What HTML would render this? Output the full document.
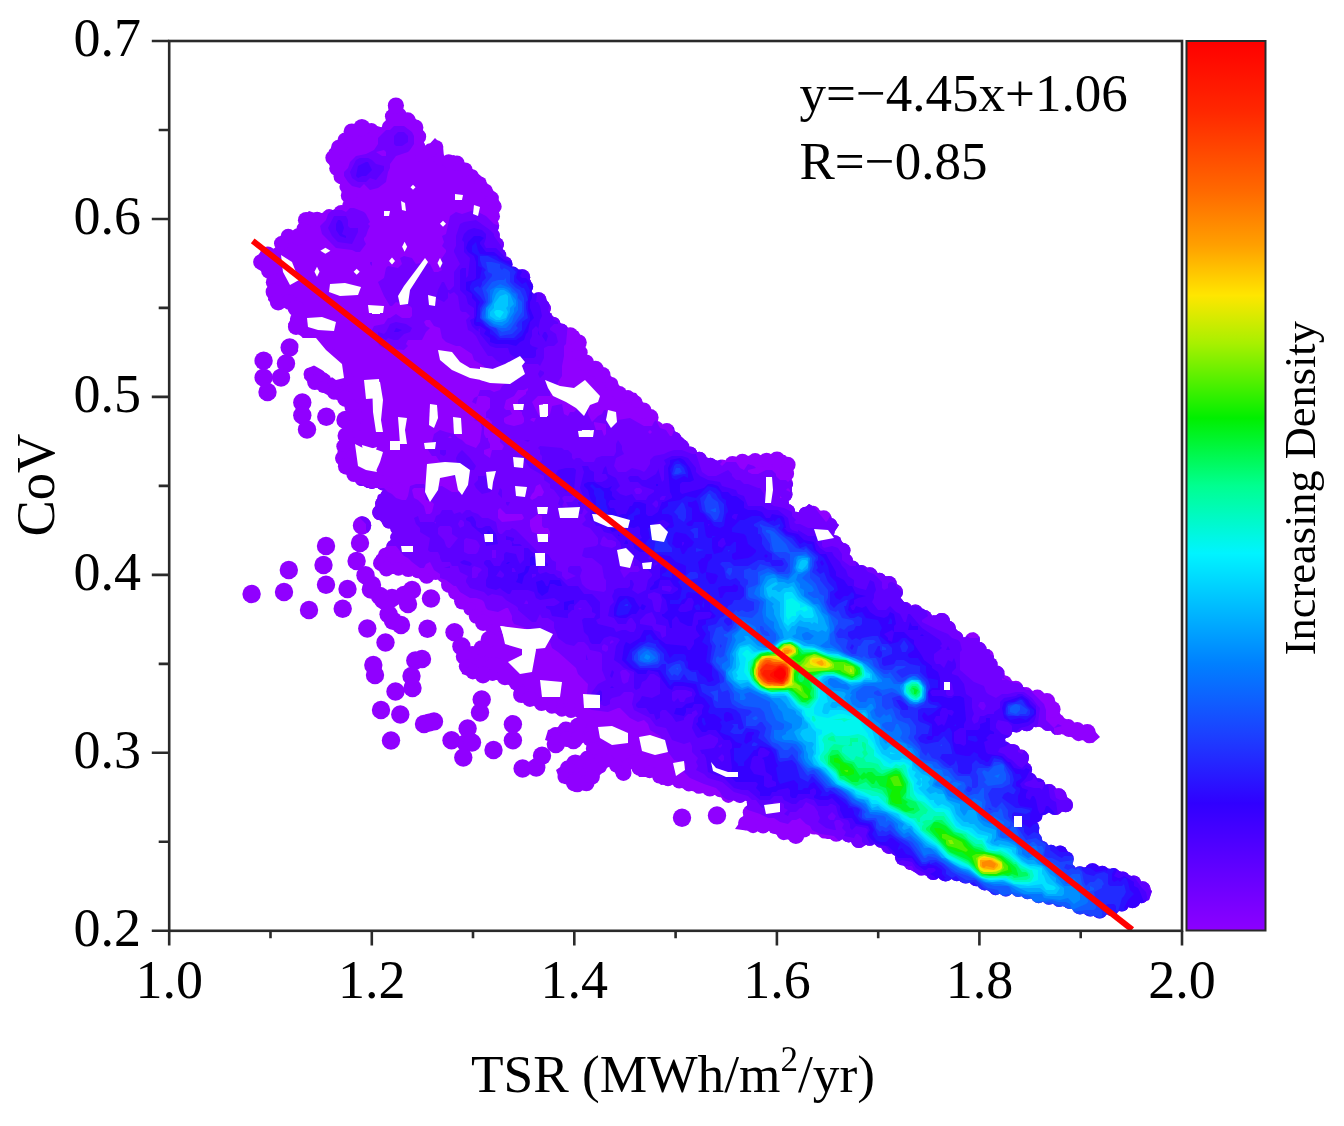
<!DOCTYPE html><html><head><meta charset="utf-8"><style>html,body{margin:0;padding:0;background:#fff;}svg{display:block;}text{font-family:"Liberation Serif","Times New Roman",serif;fill:#000;}</style></head><body><svg width="1344" height="1126" viewBox="0 0 1344 1126"><defs><linearGradient id="cb" x1="0" y1="0" x2="0" y2="1"><stop offset="0" stop-color="#ff0000"/><stop offset="0.08" stop-color="#ff2800"/><stop offset="0.17" stop-color="#ff6a00"/><stop offset="0.23" stop-color="#ffa000"/><stop offset="0.286" stop-color="#ffe600"/><stop offset="0.34" stop-color="#a8f000"/><stop offset="0.424" stop-color="#00f000"/><stop offset="0.5" stop-color="#00ff90"/><stop offset="0.576" stop-color="#00f4ff"/><stop offset="0.64" stop-color="#00b8ff"/><stop offset="0.7" stop-color="#0080ff"/><stop offset="0.78" stop-color="#1c40ff"/><stop offset="0.857" stop-color="#3000ff"/><stop offset="0.93" stop-color="#6000ff"/><stop offset="1.0" stop-color="#8c00ff"/></linearGradient><clipPath id="plot"><rect x="169.2" y="41.0" width="1012.8" height="889.8"/></clipPath></defs><rect width="1344" height="1126" fill="#fff"/><g clip-path="url(#plot)"><defs>
<clipPath id="cl">
<polygon points="391,100 400,101 405,114 416,119 423,130 424,150 435,138 443,146 444,157 454,155 465,163 481,176 493,190 501,204 496,224 504,254 513,268 524,271 531,281 532,295 542,295 549,303 550,314 559,321 566,330 578,331 584,341 583,348 590,360 602,367 614,379 624,391 636,393 645,405 655,415 660,425 669,426 684,439 690,448 705,457 722,462 744,456 770,455 785,455 793,463 791,472 792,491 787,503 797,515 809,504 828,515 839,525 833,534 847,546 852,563 869,570 890,578 900,587 900,599 910,606 924,609 931,618 941,613 950,623 960,633 964,640 974,632 981,645 993,655 996,667 1009,679 1027,689 1049,696 1055,704 1062,717 1074,723 1093,729 1100,737 1093,743 1074,738 1055,732 1037,726 1012,732 1002,742 1015,745 1027,757 1030,773 1046,785 1065,794 1072,804 1068,811 1043,813 1037,822 1040,838 1049,847 1065,847 1071,857 1074,869 1093,866 1117,870 1136,878 1152,891 1149,900 1130,906 1117,912 1099,916 1083,912 1062,906 1037,900 1012,894 993,894 978,884 956,878 936,878 916,873 904,866 894,854 874,844 859,846 847,839 827,839 809,831 799,841 784,839 770,831 750,831 735,829 742,819 750,799 727,801 715,794 700,793 684,789 674,784 661,785 652,777 639,777 633,765 626,779 617,776 610,765 600,775 590,788 575,789 560,781 556,770 570,760 588,752 586,742 560,745 545,740 548,730 575,722 581,716 560,715 540,708 518,700 514,688 500,680 480,680 462,674 458,652 478,645 488,632 476,624 468,614 454,600 444,586 440,577 424,582 412,574 383,574 376,568 376,556 390,543 394,531 383,524 374,513 378,495 393,488 367,488 350,478 336,462 340,435 352,421 345,404 331,397 311,386 304,378 306,369 315,365 332,379 340,378 336,370 320,354 318,342 304,338 293,331 288,324 293,315 290,307 275,307 268,300 269,289 268,276 258,269 255,260 263,248 275,250 277,239 288,230 297,232 300,219 309,211 318,214 336,209 345,207 345,199 340,184 327,161 329,150 340,139 349,127 363,122 384,128 386,119"/>
<circle cx="263.6" cy="360.8" r="9.2"/>
<circle cx="263.6" cy="377.6" r="9.2"/>
<circle cx="267.5" cy="392" r="9.2"/>
<circle cx="289.7" cy="347.4" r="9.2"/>
<circle cx="286" cy="363.4" r="9.2"/>
<circle cx="281" cy="377.6" r="9.2"/>
<circle cx="302.3" cy="402.4" r="9.2"/>
<circle cx="302.3" cy="415.2" r="9.2"/>
<circle cx="307" cy="429.5" r="9.2"/>
<circle cx="326.3" cy="416.8" r="9.2"/>
<circle cx="345.5" cy="420" r="9.2"/>
<circle cx="362" cy="525.5" r="9.2"/>
<circle cx="360" cy="543" r="9.2"/>
<circle cx="356.6" cy="561" r="9.2"/>
<circle cx="326" cy="546" r="9.2"/>
<circle cx="323.5" cy="565" r="9.2"/>
<circle cx="288.8" cy="570" r="9.2"/>
<circle cx="251.6" cy="594" r="9.2"/>
<circle cx="284" cy="592" r="9.2"/>
<circle cx="326" cy="584.7" r="9.2"/>
<circle cx="347.5" cy="589" r="9.2"/>
<circle cx="309" cy="610" r="9.2"/>
<circle cx="342.7" cy="608.7" r="9.2"/>
<circle cx="365.5" cy="575.3" r="9.2"/>
<circle cx="370.9" cy="589.5" r="9.2"/>
<circle cx="383.3" cy="600" r="9.2"/>
<circle cx="388.6" cy="614.3" r="9.2"/>
<circle cx="401" cy="625" r="9.2"/>
<circle cx="393" cy="620.7" r="9.2"/>
<circle cx="367.3" cy="628.5" r="9.2"/>
<circle cx="385.5" cy="642.5" r="9.2"/>
<circle cx="373.3" cy="665" r="9.2"/>
<circle cx="375" cy="675" r="9.2"/>
<circle cx="415.3" cy="660.5" r="9.2"/>
<circle cx="422" cy="659" r="9.2"/>
<circle cx="411.5" cy="676" r="9.2"/>
<circle cx="412.5" cy="688" r="9.2"/>
<circle cx="395.5" cy="691.5" r="9.2"/>
<circle cx="381" cy="710" r="9.2"/>
<circle cx="400.3" cy="714.5" r="9.2"/>
<circle cx="424" cy="724" r="9.2"/>
<circle cx="429" cy="722.6" r="9.2"/>
<circle cx="434" cy="721.4" r="9.2"/>
<circle cx="391" cy="740.5" r="9.2"/>
<circle cx="431" cy="598.5" r="9.2"/>
<circle cx="427.5" cy="628.7" r="9.2"/>
<circle cx="454.5" cy="632.3" r="9.2"/>
<circle cx="461.4" cy="646.3" r="9.2"/>
<circle cx="468" cy="659" r="9.2"/>
<circle cx="484.5" cy="665.8" r="9.2"/>
<circle cx="500.5" cy="667.6" r="9.2"/>
<circle cx="514.7" cy="673" r="9.2"/>
<circle cx="493.8" cy="666.3" r="9.2"/>
<circle cx="517.8" cy="673.5" r="9.2"/>
<circle cx="522.6" cy="692.7" r="9.2"/>
<circle cx="481.7" cy="699.5" r="9.2"/>
<circle cx="480" cy="712.5" r="9.2"/>
<circle cx="467.6" cy="728.5" r="9.2"/>
<circle cx="466" cy="743" r="9.2"/>
<circle cx="451.5" cy="740.3" r="9.2"/>
<circle cx="472" cy="742.5" r="9.2"/>
<circle cx="463.3" cy="757.5" r="9.2"/>
<circle cx="493.5" cy="750" r="9.2"/>
<circle cx="512.9" cy="724.3" r="9.2"/>
<circle cx="512.9" cy="740.3" r="9.2"/>
<circle cx="522.6" cy="768.5" r="9.2"/>
<circle cx="536.25" cy="767.5" r="9.2"/>
<circle cx="542" cy="755.8" r="9.2"/>
<circle cx="555.8" cy="744" r="9.2"/>
<circle cx="573.4" cy="740" r="9.2"/>
<circle cx="567.5" cy="775.3" r="9.2"/>
<circle cx="577.3" cy="783" r="9.2"/>
<circle cx="575.3" cy="763.6" r="9.2"/>
<circle cx="682" cy="817.8" r="9.2"/>
<circle cx="717" cy="815.4" r="9.2"/>
<circle cx="392" cy="598" r="9.2"/>
<circle cx="404" cy="595" r="9.2"/>
<circle cx="412" cy="590" r="9.2"/>
<circle cx="408" cy="604" r="9.2"/>
<circle cx="380" cy="596" r="9.2"/>
<circle cx="372" cy="585" r="9.2"/>
<circle cx="394.7" cy="105.4" r="6.6"/>
<circle cx="391.9" cy="116.3" r="7.0"/>
<circle cx="389.3" cy="127.4" r="7.6"/>
<circle cx="383.3" cy="132.9" r="6.0"/>
<circle cx="371.4" cy="129.6" r="6.7"/>
<circle cx="361.9" cy="127.7" r="8.6"/>
<circle cx="351.8" cy="131.6" r="8.2"/>
<circle cx="345.2" cy="140.3" r="7.7"/>
<circle cx="338.7" cy="147.4" r="7.7"/>
<circle cx="332.7" cy="157.7" r="7.4"/>
<circle cx="336.9" cy="168.4" r="7.7"/>
<circle cx="341.5" cy="176.4" r="8.0"/>
<circle cx="346.2" cy="186.7" r="6.8"/>
<circle cx="349.1" cy="195.4" r="8.3"/>
<circle cx="350.0" cy="206.1" r="7.9"/>
<circle cx="341.3" cy="212.9" r="7.9"/>
<circle cx="329.1" cy="216.1" r="7.0"/>
<circle cx="317.2" cy="218.9" r="7.2"/>
<circle cx="306.2" cy="220.2" r="8.3"/>
<circle cx="302.9" cy="228.6" r="6.4"/>
<circle cx="298.4" cy="236.8" r="8.5"/>
<circle cx="288.2" cy="236.3" r="7.6"/>
<circle cx="281.3" cy="243.3" r="7.3"/>
<circle cx="278.7" cy="253.4" r="6.9"/>
<circle cx="267.8" cy="253.9" r="7.5"/>
<circle cx="260.9" cy="262.0" r="7.8"/>
<circle cx="269.3" cy="270.8" r="8.2"/>
<circle cx="273.5" cy="282.3" r="7.7"/>
<circle cx="273.8" cy="291.9" r="8.2"/>
<circle cx="278.2" cy="302.0" r="8.4"/>
<circle cx="289.5" cy="302.0" r="7.9"/>
<circle cx="295.8" cy="308.3" r="8.2"/>
<circle cx="296.6" cy="318.9" r="6.7"/>
<circle cx="296.1" cy="326.8" r="8.2"/>
<circle cx="307.0" cy="333.7" r="6.2"/>
<circle cx="318.7" cy="337.0" r="7.1"/>
<circle cx="323.5" cy="344.4" r="6.8"/>
<circle cx="328.1" cy="355.0" r="8.3"/>
<circle cx="334.5" cy="361.5" r="7.6"/>
<circle cx="340.7" cy="368.2" r="7.9"/>
<circle cx="345.0" cy="377.6" r="8.3"/>
<circle cx="335.4" cy="383.6" r="7.3"/>
<circle cx="324.1" cy="379.0" r="6.8"/>
<circle cx="316.9" cy="373.0" r="7.6"/>
<circle cx="310.0" cy="373.9" r="6.5"/>
<circle cx="314.8" cy="382.4" r="7.6"/>
<circle cx="323.2" cy="387.0" r="6.1"/>
<circle cx="334.1" cy="393.0" r="6.8"/>
<circle cx="345.6" cy="398.7" r="8.3"/>
<circle cx="351.6" cy="406.8" r="7.2"/>
<circle cx="355.8" cy="417.1" r="7.7"/>
<circle cx="353.4" cy="427.1" r="7.5"/>
<circle cx="345.9" cy="435.8" r="8.4"/>
<circle cx="343.4" cy="446.3" r="7.1"/>
<circle cx="341.6" cy="458.0" r="6.6"/>
<circle cx="346.4" cy="466.3" r="8.5"/>
<circle cx="353.8" cy="474.5" r="7.4"/>
<circle cx="361.6" cy="479.0" r="7.1"/>
<circle cx="371.9" cy="483.0" r="6.1"/>
<circle cx="383.3" cy="483.0" r="7.6"/>
<circle cx="392.6" cy="483.0" r="7.6"/>
<circle cx="397.3" cy="490.5" r="7.8"/>
<circle cx="388.5" cy="495.6" r="7.8"/>
<circle cx="381.2" cy="503.6" r="6.1"/>
<circle cx="380.0" cy="512.4" r="7.8"/>
<circle cx="388.7" cy="521.7" r="6.7"/>
<circle cx="397.7" cy="527.7" r="7.5"/>
<circle cx="397.2" cy="537.3" r="6.9"/>
<circle cx="393.3" cy="546.7" r="7.0"/>
<circle cx="385.0" cy="554.5" r="6.8"/>
<circle cx="381.0" cy="563.2" r="8.0"/>
<circle cx="386.4" cy="569.0" r="7.5"/>
<circle cx="398.4" cy="569.0" r="6.8"/>
<circle cx="408.3" cy="569.0" r="8.1"/>
<circle cx="417.5" cy="571.7" r="6.5"/>
<circle cx="426.7" cy="575.9" r="7.8"/>
<circle cx="435.7" cy="573.1" r="6.8"/>
<circle cx="444.6" cy="575.0" r="8.2"/>
<circle cx="449.2" cy="584.7" r="8.2"/>
<circle cx="454.9" cy="592.6" r="6.9"/>
<circle cx="462.4" cy="601.3" r="8.3"/>
<circle cx="470.1" cy="609.0" r="6.6"/>
<circle cx="476.2" cy="616.2" r="7.4"/>
<circle cx="483.2" cy="622.8" r="8.1"/>
<circle cx="492.7" cy="630.4" r="6.5"/>
<circle cx="488.8" cy="639.2" r="8.1"/>
<circle cx="481.7" cy="648.3" r="8.1"/>
<circle cx="472.2" cy="652.3" r="6.3"/>
<circle cx="463.9" cy="656.4" r="8.1"/>
<circle cx="465.7" cy="666.3" r="6.9"/>
<circle cx="472.8" cy="672.3" r="7.1"/>
<circle cx="483.0" cy="675.0" r="8.4"/>
<circle cx="492.6" cy="675.0" r="6.0"/>
<circle cx="504.9" cy="677.0" r="8.3"/>
<circle cx="516.1" cy="683.5" r="7.1"/>
<circle cx="521.5" cy="694.7" r="8.4"/>
<circle cx="529.9" cy="699.0" r="7.9"/>
<circle cx="541.5" cy="703.2" r="7.7"/>
<circle cx="551.9" cy="706.9" r="6.8"/>
<circle cx="561.8" cy="710.1" r="6.6"/>
<circle cx="571.0" cy="710.5" r="7.5"/>
<circle cx="581.2" cy="711.0" r="8.1"/>
<circle cx="585.8" cy="717.5" r="8.3"/>
<circle cx="577.9" cy="726.1" r="8.4"/>
<circle cx="565.9" cy="729.9" r="8.3"/>
<circle cx="555.1" cy="733.1" r="6.0"/>
<circle cx="556.8" cy="738.7" r="6.4"/>
<circle cx="566.7" cy="739.2" r="7.7"/>
<circle cx="577.8" cy="737.9" r="7.1"/>
<circle cx="589.9" cy="738.9" r="7.6"/>
<circle cx="592.5" cy="748.8" r="6.7"/>
<circle cx="586.9" cy="758.0" r="7.2"/>
<circle cx="575.8" cy="762.9" r="6.9"/>
<circle cx="567.4" cy="768.0" r="7.4"/>
<circle cx="563.9" cy="777.1" r="6.4"/>
<circle cx="574.4" cy="783.0" r="8.4"/>
<circle cx="586.4" cy="783.2" r="8.1"/>
<circle cx="592.3" cy="776.8" r="7.6"/>
<circle cx="600.5" cy="767.5" r="6.1"/>
<circle cx="607.8" cy="760.5" r="6.7"/>
<circle cx="616.2" cy="765.5" r="7.1"/>
<circle cx="623.5" cy="772.9" r="8.0"/>
<circle cx="627.5" cy="764.8" r="6.1"/>
<circle cx="634.7" cy="760.3" r="6.3"/>
<circle cx="639.9" cy="767.6" r="8.5"/>
<circle cx="649.6" cy="772.0" r="6.2"/>
<circle cx="659.0" cy="776.6" r="6.8"/>
<circle cx="668.0" cy="779.4" r="6.9"/>
<circle cx="679.2" cy="781.0" r="7.5"/>
<circle cx="688.8" cy="785.0" r="6.5"/>
<circle cx="698.8" cy="787.5" r="6.3"/>
<circle cx="709.9" cy="788.6" r="7.9"/>
<circle cx="719.9" cy="791.1" r="6.2"/>
<circle cx="728.3" cy="795.9" r="7.0"/>
<circle cx="739.7" cy="794.9" r="8.0"/>
<circle cx="750.2" cy="794.0" r="8.1"/>
<circle cx="753.9" cy="802.7" r="7.1"/>
<circle cx="750.0" cy="812.4" r="7.3"/>
<circle cx="745.2" cy="823.1" r="7.1"/>
<circle cx="753.1" cy="826.0" r="7.2"/>
<circle cx="763.1" cy="826.0" r="7.4"/>
<circle cx="774.4" cy="827.8" r="6.2"/>
<circle cx="783.7" cy="833.1" r="7.1"/>
<circle cx="795.9" cy="835.5" r="8.4"/>
<circle cx="803.7" cy="829.3" r="8.3"/>
<circle cx="814.3" cy="827.9" r="6.7"/>
<circle cx="824.3" cy="832.3" r="6.3"/>
<circle cx="836.2" cy="834.0" r="7.7"/>
<circle cx="848.7" cy="834.3" r="8.1"/>
<circle cx="858.8" cy="840.1" r="7.9"/>
<circle cx="869.8" cy="839.5" r="6.3"/>
<circle cx="880.5" cy="841.7" r="6.0"/>
<circle cx="889.1" cy="845.9" r="8.0"/>
<circle cx="897.2" cy="850.2" r="6.2"/>
<circle cx="903.3" cy="857.3" r="8.3"/>
<circle cx="910.3" cy="863.9" r="6.1"/>
<circle cx="921.3" cy="869.2" r="6.3"/>
<circle cx="933.3" cy="872.2" r="7.8"/>
<circle cx="945.6" cy="873.0" r="8.5"/>
<circle cx="956.9" cy="873.1" r="8.1"/>
<circle cx="965.7" cy="875.5" r="8.0"/>
<circle cx="976.4" cy="878.4" r="7.9"/>
<circle cx="984.7" cy="882.5" r="7.9"/>
<circle cx="995.5" cy="889.0" r="6.2"/>
<circle cx="1005.8" cy="889.0" r="7.5"/>
<circle cx="1018.0" cy="890.3" r="6.6"/>
<circle cx="1027.4" cy="892.6" r="6.6"/>
<circle cx="1038.6" cy="895.2" r="8.0"/>
<circle cx="1048.9" cy="897.7" r="7.0"/>
<circle cx="1059.1" cy="900.2" r="6.9"/>
<circle cx="1069.5" cy="902.9" r="6.2"/>
<circle cx="1080.0" cy="906.0" r="8.5"/>
<circle cx="1090.3" cy="908.7" r="7.9"/>
<circle cx="1099.7" cy="910.7" r="7.8"/>
<circle cx="1111.4" cy="908.1" r="7.8"/>
<circle cx="1121.8" cy="904.3" r="7.3"/>
<circle cx="1132.5" cy="900.0" r="8.3"/>
<circle cx="1141.6" cy="897.1" r="6.2"/>
<circle cx="1142.4" cy="889.6" r="8.4"/>
<circle cx="1133.8" cy="882.6" r="7.2"/>
<circle cx="1122.9" cy="877.9" r="6.5"/>
<circle cx="1113.5" cy="874.5" r="6.5"/>
<circle cx="1102.3" cy="872.6" r="6.8"/>
<circle cx="1092.5" cy="871.1" r="7.8"/>
<circle cx="1079.8" cy="873.1" r="6.8"/>
<circle cx="1069.4" cy="870.9" r="7.1"/>
<circle cx="1066.3" cy="858.9" r="7.5"/>
<circle cx="1060.1" cy="852.0" r="6.6"/>
<circle cx="1051.0" cy="852.0" r="7.2"/>
<circle cx="1042.2" cy="847.3" r="6.4"/>
<circle cx="1035.3" cy="839.6" r="6.8"/>
<circle cx="1033.0" cy="827.7" r="6.4"/>
<circle cx="1035.2" cy="815.7" r="7.2"/>
<circle cx="1042.9" cy="808.0" r="7.2"/>
<circle cx="1055.2" cy="807.0" r="8.1"/>
<circle cx="1065.7" cy="805.0" r="7.3"/>
<circle cx="1058.6" cy="796.5" r="8.2"/>
<circle cx="1049.1" cy="792.0" r="7.9"/>
<circle cx="1038.1" cy="785.4" r="7.2"/>
<circle cx="1030.2" cy="779.4" r="6.6"/>
<circle cx="1024.3" cy="769.8" r="7.8"/>
<circle cx="1020.8" cy="757.8" r="8.2"/>
<circle cx="1013.7" cy="750.8" r="6.5"/>
<circle cx="1004.4" cy="747.7" r="6.5"/>
<circle cx="997.2" cy="740.6" r="8.2"/>
<circle cx="1005.6" cy="731.3" r="6.7"/>
<circle cx="1016.4" cy="725.8" r="6.8"/>
<circle cx="1026.8" cy="723.3" r="7.9"/>
<circle cx="1035.9" cy="721.1" r="6.2"/>
<circle cx="1047.7" cy="724.3" r="6.8"/>
<circle cx="1057.6" cy="727.6" r="7.5"/>
<circle cx="1068.7" cy="731.1" r="6.0"/>
<circle cx="1078.6" cy="734.1" r="7.1"/>
<circle cx="1089.2" cy="736.8" r="6.5"/>
<circle cx="1087.3" cy="732.4" r="8.5"/>
<circle cx="1077.2" cy="729.3" r="7.4"/>
<circle cx="1068.4" cy="725.8" r="6.7"/>
<circle cx="1058.2" cy="720.3" r="6.3"/>
<circle cx="1052.2" cy="709.3" r="8.4"/>
<circle cx="1046.9" cy="701.5" r="8.4"/>
<circle cx="1037.4" cy="697.6" r="8.0"/>
<circle cx="1026.0" cy="693.9" r="6.8"/>
<circle cx="1015.7" cy="688.4" r="7.7"/>
<circle cx="1005.1" cy="682.2" r="6.7"/>
<circle cx="996.3" cy="674.1" r="8.5"/>
<circle cx="990.2" cy="664.6" r="7.4"/>
<circle cx="986.7" cy="656.2" r="7.3"/>
<circle cx="978.7" cy="649.6" r="7.9"/>
<circle cx="972.5" cy="639.7" r="7.5"/>
<circle cx="964.5" cy="645.0" r="7.7"/>
<circle cx="956.8" cy="637.5" r="6.5"/>
<circle cx="948.3" cy="628.4" r="7.7"/>
<circle cx="941.8" cy="621.4" r="8.4"/>
<circle cx="933.9" cy="622.1" r="6.9"/>
<circle cx="924.5" cy="617.7" r="7.6"/>
<circle cx="915.4" cy="612.3" r="7.7"/>
<circle cx="905.3" cy="608.8" r="6.8"/>
<circle cx="897.4" cy="603.3" r="6.2"/>
<circle cx="895.0" cy="592.2" r="8.0"/>
<circle cx="888.9" cy="583.8" r="7.9"/>
<circle cx="879.6" cy="579.4" r="6.7"/>
<circle cx="869.7" cy="575.6" r="8.3"/>
<circle cx="861.2" cy="572.2" r="7.3"/>
<circle cx="852.0" cy="568.4" r="8.0"/>
<circle cx="846.1" cy="560.7" r="6.9"/>
<circle cx="843.1" cy="550.5" r="7.4"/>
<circle cx="834.8" cy="542.1" r="6.9"/>
<circle cx="828.2" cy="532.6" r="6.3"/>
<circle cx="830.9" cy="524.4" r="6.3"/>
<circle cx="823.7" cy="518.3" r="8.0"/>
<circle cx="813.4" cy="512.3" r="6.5"/>
<circle cx="805.7" cy="513.8" r="7.1"/>
<circle cx="795.9" cy="519.9" r="8.1"/>
<circle cx="787.6" cy="511.5" r="7.5"/>
<circle cx="782.1" cy="503.8" r="7.0"/>
<circle cx="785.1" cy="494.6" r="7.4"/>
<circle cx="786.6" cy="483.7" r="6.5"/>
<circle cx="786.1" cy="473.7" r="8.0"/>
<circle cx="787.5" cy="464.8" r="8.1"/>
<circle cx="777.0" cy="460.0" r="8.5"/>
<circle cx="766.5" cy="460.1" r="7.4"/>
<circle cx="755.2" cy="460.6" r="7.6"/>
<circle cx="742.4" cy="461.6" r="7.8"/>
<circle cx="732.5" cy="464.3" r="8.2"/>
<circle cx="722.0" cy="467.0" r="7.6"/>
<circle cx="710.5" cy="463.8" r="6.0"/>
<circle cx="699.3" cy="459.4" r="7.7"/>
<circle cx="689.9" cy="453.8" r="7.4"/>
<circle cx="682.7" cy="446.0" r="6.5"/>
<circle cx="675.2" cy="438.0" r="6.1"/>
<circle cx="666.8" cy="430.8" r="7.7"/>
<circle cx="656.5" cy="428.5" r="7.5"/>
<circle cx="650.3" cy="417.4" r="8.3"/>
<circle cx="643.5" cy="410.6" r="8.1"/>
<circle cx="636.3" cy="401.7" r="6.1"/>
<circle cx="628.0" cy="396.7" r="6.6"/>
<circle cx="619.6" cy="393.5" r="7.4"/>
<circle cx="611.5" cy="383.8" r="6.8"/>
<circle cx="602.7" cy="374.8" r="7.8"/>
<circle cx="595.4" cy="368.9" r="8.2"/>
<circle cx="585.8" cy="362.8" r="8.4"/>
<circle cx="579.8" cy="352.5" r="7.9"/>
<circle cx="578.7" cy="342.6" r="8.1"/>
<circle cx="570.2" cy="335.4" r="8.2"/>
<circle cx="560.9" cy="331.5" r="8.0"/>
<circle cx="553.8" cy="323.3" r="6.3"/>
<circle cx="546.5" cy="317.6" r="6.2"/>
<circle cx="544.5" cy="308.3" r="6.4"/>
<circle cx="538.7" cy="300.0" r="7.8"/>
<circle cx="528.1" cy="298.1" r="7.1"/>
<circle cx="526.4" cy="286.8" r="6.8"/>
<circle cx="522.2" cy="277.2" r="8.0"/>
<circle cx="512.9" cy="273.1" r="6.5"/>
<circle cx="504.6" cy="264.2" r="7.9"/>
<circle cx="499.2" cy="255.3" r="7.0"/>
<circle cx="496.3" cy="244.6" r="7.6"/>
<circle cx="493.8" cy="235.0" r="6.0"/>
<circle cx="491.2" cy="225.5" r="8.0"/>
<circle cx="492.8" cy="216.2" r="7.2"/>
<circle cx="495.2" cy="206.7" r="6.5"/>
<circle cx="491.9" cy="198.1" r="7.0"/>
<circle cx="486.5" cy="190.1" r="6.1"/>
<circle cx="480.3" cy="182.9" r="6.4"/>
<circle cx="472.4" cy="175.4" r="6.2"/>
<circle cx="465.3" cy="169.7" r="7.2"/>
<circle cx="456.9" cy="163.3" r="7.8"/>
<circle cx="448.7" cy="161.2" r="7.0"/>
<circle cx="439.4" cy="159.0" r="6.1"/>
<circle cx="436.7" cy="146.8" r="6.6"/>
<circle cx="430.3" cy="150.5" r="7.2"/>
<circle cx="422.4" cy="154.7" r="7.6"/>
<circle cx="418.8" cy="145.9" r="6.3"/>
<circle cx="418.3" cy="136.7" r="7.9"/>
<circle cx="415.4" cy="127.4" r="8.0"/>
<circle cx="407.5" cy="120.6" r="8.4"/>
<circle cx="399.9" cy="114.5" r="6.6"/>
<circle cx="395.9" cy="105.6" r="8.1"/>
</clipPath>
<filter id="b2_5" x="-50%" y="-50%" width="200%" height="200%"><feGaussianBlur stdDeviation="2.5"/></filter>
<filter id="b3" x="-50%" y="-50%" width="200%" height="200%"><feGaussianBlur stdDeviation="3"/></filter>
<filter id="b4" x="-50%" y="-50%" width="200%" height="200%"><feGaussianBlur stdDeviation="4"/></filter>
<filter id="b5" x="-50%" y="-50%" width="200%" height="200%"><feGaussianBlur stdDeviation="5"/></filter>
<filter id="b6" x="-50%" y="-50%" width="200%" height="200%"><feGaussianBlur stdDeviation="6"/></filter>
<filter id="b7" x="-50%" y="-50%" width="200%" height="200%"><feGaussianBlur stdDeviation="7"/></filter>
</defs>
<g fill="#9000ff">
<polygon points="391,100 400,101 405,114 416,119 423,130 424,150 435,138 443,146 444,157 454,155 465,163 481,176 493,190 501,204 496,224 504,254 513,268 524,271 531,281 532,295 542,295 549,303 550,314 559,321 566,330 578,331 584,341 583,348 590,360 602,367 614,379 624,391 636,393 645,405 655,415 660,425 669,426 684,439 690,448 705,457 722,462 744,456 770,455 785,455 793,463 791,472 792,491 787,503 797,515 809,504 828,515 839,525 833,534 847,546 852,563 869,570 890,578 900,587 900,599 910,606 924,609 931,618 941,613 950,623 960,633 964,640 974,632 981,645 993,655 996,667 1009,679 1027,689 1049,696 1055,704 1062,717 1074,723 1093,729 1100,737 1093,743 1074,738 1055,732 1037,726 1012,732 1002,742 1015,745 1027,757 1030,773 1046,785 1065,794 1072,804 1068,811 1043,813 1037,822 1040,838 1049,847 1065,847 1071,857 1074,869 1093,866 1117,870 1136,878 1152,891 1149,900 1130,906 1117,912 1099,916 1083,912 1062,906 1037,900 1012,894 993,894 978,884 956,878 936,878 916,873 904,866 894,854 874,844 859,846 847,839 827,839 809,831 799,841 784,839 770,831 750,831 735,829 742,819 750,799 727,801 715,794 700,793 684,789 674,784 661,785 652,777 639,777 633,765 626,779 617,776 610,765 600,775 590,788 575,789 560,781 556,770 570,760 588,752 586,742 560,745 545,740 548,730 575,722 581,716 560,715 540,708 518,700 514,688 500,680 480,680 462,674 458,652 478,645 488,632 476,624 468,614 454,600 444,586 440,577 424,582 412,574 383,574 376,568 376,556 390,543 394,531 383,524 374,513 378,495 393,488 367,488 350,478 336,462 340,435 352,421 345,404 331,397 311,386 304,378 306,369 315,365 332,379 340,378 336,370 320,354 318,342 304,338 293,331 288,324 293,315 290,307 275,307 268,300 269,289 268,276 258,269 255,260 263,248 275,250 277,239 288,230 297,232 300,219 309,211 318,214 336,209 345,207 345,199 340,184 327,161 329,150 340,139 349,127 363,122 384,128 386,119"/>
<circle cx="263.6" cy="360.8" r="9.2"/>
<circle cx="263.6" cy="377.6" r="9.2"/>
<circle cx="267.5" cy="392" r="9.2"/>
<circle cx="289.7" cy="347.4" r="9.2"/>
<circle cx="286" cy="363.4" r="9.2"/>
<circle cx="281" cy="377.6" r="9.2"/>
<circle cx="302.3" cy="402.4" r="9.2"/>
<circle cx="302.3" cy="415.2" r="9.2"/>
<circle cx="307" cy="429.5" r="9.2"/>
<circle cx="326.3" cy="416.8" r="9.2"/>
<circle cx="345.5" cy="420" r="9.2"/>
<circle cx="362" cy="525.5" r="9.2"/>
<circle cx="360" cy="543" r="9.2"/>
<circle cx="356.6" cy="561" r="9.2"/>
<circle cx="326" cy="546" r="9.2"/>
<circle cx="323.5" cy="565" r="9.2"/>
<circle cx="288.8" cy="570" r="9.2"/>
<circle cx="251.6" cy="594" r="9.2"/>
<circle cx="284" cy="592" r="9.2"/>
<circle cx="326" cy="584.7" r="9.2"/>
<circle cx="347.5" cy="589" r="9.2"/>
<circle cx="309" cy="610" r="9.2"/>
<circle cx="342.7" cy="608.7" r="9.2"/>
<circle cx="365.5" cy="575.3" r="9.2"/>
<circle cx="370.9" cy="589.5" r="9.2"/>
<circle cx="383.3" cy="600" r="9.2"/>
<circle cx="388.6" cy="614.3" r="9.2"/>
<circle cx="401" cy="625" r="9.2"/>
<circle cx="393" cy="620.7" r="9.2"/>
<circle cx="367.3" cy="628.5" r="9.2"/>
<circle cx="385.5" cy="642.5" r="9.2"/>
<circle cx="373.3" cy="665" r="9.2"/>
<circle cx="375" cy="675" r="9.2"/>
<circle cx="415.3" cy="660.5" r="9.2"/>
<circle cx="422" cy="659" r="9.2"/>
<circle cx="411.5" cy="676" r="9.2"/>
<circle cx="412.5" cy="688" r="9.2"/>
<circle cx="395.5" cy="691.5" r="9.2"/>
<circle cx="381" cy="710" r="9.2"/>
<circle cx="400.3" cy="714.5" r="9.2"/>
<circle cx="424" cy="724" r="9.2"/>
<circle cx="429" cy="722.6" r="9.2"/>
<circle cx="434" cy="721.4" r="9.2"/>
<circle cx="391" cy="740.5" r="9.2"/>
<circle cx="431" cy="598.5" r="9.2"/>
<circle cx="427.5" cy="628.7" r="9.2"/>
<circle cx="454.5" cy="632.3" r="9.2"/>
<circle cx="461.4" cy="646.3" r="9.2"/>
<circle cx="468" cy="659" r="9.2"/>
<circle cx="484.5" cy="665.8" r="9.2"/>
<circle cx="500.5" cy="667.6" r="9.2"/>
<circle cx="514.7" cy="673" r="9.2"/>
<circle cx="493.8" cy="666.3" r="9.2"/>
<circle cx="517.8" cy="673.5" r="9.2"/>
<circle cx="522.6" cy="692.7" r="9.2"/>
<circle cx="481.7" cy="699.5" r="9.2"/>
<circle cx="480" cy="712.5" r="9.2"/>
<circle cx="467.6" cy="728.5" r="9.2"/>
<circle cx="466" cy="743" r="9.2"/>
<circle cx="451.5" cy="740.3" r="9.2"/>
<circle cx="472" cy="742.5" r="9.2"/>
<circle cx="463.3" cy="757.5" r="9.2"/>
<circle cx="493.5" cy="750" r="9.2"/>
<circle cx="512.9" cy="724.3" r="9.2"/>
<circle cx="512.9" cy="740.3" r="9.2"/>
<circle cx="522.6" cy="768.5" r="9.2"/>
<circle cx="536.25" cy="767.5" r="9.2"/>
<circle cx="542" cy="755.8" r="9.2"/>
<circle cx="555.8" cy="744" r="9.2"/>
<circle cx="573.4" cy="740" r="9.2"/>
<circle cx="567.5" cy="775.3" r="9.2"/>
<circle cx="577.3" cy="783" r="9.2"/>
<circle cx="575.3" cy="763.6" r="9.2"/>
<circle cx="682" cy="817.8" r="9.2"/>
<circle cx="717" cy="815.4" r="9.2"/>
<circle cx="392" cy="598" r="9.2"/>
<circle cx="404" cy="595" r="9.2"/>
<circle cx="412" cy="590" r="9.2"/>
<circle cx="408" cy="604" r="9.2"/>
<circle cx="380" cy="596" r="9.2"/>
<circle cx="372" cy="585" r="9.2"/>
<circle cx="394.7" cy="105.4" r="6.6"/>
<circle cx="391.9" cy="116.3" r="7.0"/>
<circle cx="389.3" cy="127.4" r="7.6"/>
<circle cx="383.3" cy="132.9" r="6.0"/>
<circle cx="371.4" cy="129.6" r="6.7"/>
<circle cx="361.9" cy="127.7" r="8.6"/>
<circle cx="351.8" cy="131.6" r="8.2"/>
<circle cx="345.2" cy="140.3" r="7.7"/>
<circle cx="338.7" cy="147.4" r="7.7"/>
<circle cx="332.7" cy="157.7" r="7.4"/>
<circle cx="336.9" cy="168.4" r="7.7"/>
<circle cx="341.5" cy="176.4" r="8.0"/>
<circle cx="346.2" cy="186.7" r="6.8"/>
<circle cx="349.1" cy="195.4" r="8.3"/>
<circle cx="350.0" cy="206.1" r="7.9"/>
<circle cx="341.3" cy="212.9" r="7.9"/>
<circle cx="329.1" cy="216.1" r="7.0"/>
<circle cx="317.2" cy="218.9" r="7.2"/>
<circle cx="306.2" cy="220.2" r="8.3"/>
<circle cx="302.9" cy="228.6" r="6.4"/>
<circle cx="298.4" cy="236.8" r="8.5"/>
<circle cx="288.2" cy="236.3" r="7.6"/>
<circle cx="281.3" cy="243.3" r="7.3"/>
<circle cx="278.7" cy="253.4" r="6.9"/>
<circle cx="267.8" cy="253.9" r="7.5"/>
<circle cx="260.9" cy="262.0" r="7.8"/>
<circle cx="269.3" cy="270.8" r="8.2"/>
<circle cx="273.5" cy="282.3" r="7.7"/>
<circle cx="273.8" cy="291.9" r="8.2"/>
<circle cx="278.2" cy="302.0" r="8.4"/>
<circle cx="289.5" cy="302.0" r="7.9"/>
<circle cx="295.8" cy="308.3" r="8.2"/>
<circle cx="296.6" cy="318.9" r="6.7"/>
<circle cx="296.1" cy="326.8" r="8.2"/>
<circle cx="307.0" cy="333.7" r="6.2"/>
<circle cx="318.7" cy="337.0" r="7.1"/>
<circle cx="323.5" cy="344.4" r="6.8"/>
<circle cx="328.1" cy="355.0" r="8.3"/>
<circle cx="334.5" cy="361.5" r="7.6"/>
<circle cx="340.7" cy="368.2" r="7.9"/>
<circle cx="345.0" cy="377.6" r="8.3"/>
<circle cx="335.4" cy="383.6" r="7.3"/>
<circle cx="324.1" cy="379.0" r="6.8"/>
<circle cx="316.9" cy="373.0" r="7.6"/>
<circle cx="310.0" cy="373.9" r="6.5"/>
<circle cx="314.8" cy="382.4" r="7.6"/>
<circle cx="323.2" cy="387.0" r="6.1"/>
<circle cx="334.1" cy="393.0" r="6.8"/>
<circle cx="345.6" cy="398.7" r="8.3"/>
<circle cx="351.6" cy="406.8" r="7.2"/>
<circle cx="355.8" cy="417.1" r="7.7"/>
<circle cx="353.4" cy="427.1" r="7.5"/>
<circle cx="345.9" cy="435.8" r="8.4"/>
<circle cx="343.4" cy="446.3" r="7.1"/>
<circle cx="341.6" cy="458.0" r="6.6"/>
<circle cx="346.4" cy="466.3" r="8.5"/>
<circle cx="353.8" cy="474.5" r="7.4"/>
<circle cx="361.6" cy="479.0" r="7.1"/>
<circle cx="371.9" cy="483.0" r="6.1"/>
<circle cx="383.3" cy="483.0" r="7.6"/>
<circle cx="392.6" cy="483.0" r="7.6"/>
<circle cx="397.3" cy="490.5" r="7.8"/>
<circle cx="388.5" cy="495.6" r="7.8"/>
<circle cx="381.2" cy="503.6" r="6.1"/>
<circle cx="380.0" cy="512.4" r="7.8"/>
<circle cx="388.7" cy="521.7" r="6.7"/>
<circle cx="397.7" cy="527.7" r="7.5"/>
<circle cx="397.2" cy="537.3" r="6.9"/>
<circle cx="393.3" cy="546.7" r="7.0"/>
<circle cx="385.0" cy="554.5" r="6.8"/>
<circle cx="381.0" cy="563.2" r="8.0"/>
<circle cx="386.4" cy="569.0" r="7.5"/>
<circle cx="398.4" cy="569.0" r="6.8"/>
<circle cx="408.3" cy="569.0" r="8.1"/>
<circle cx="417.5" cy="571.7" r="6.5"/>
<circle cx="426.7" cy="575.9" r="7.8"/>
<circle cx="435.7" cy="573.1" r="6.8"/>
<circle cx="444.6" cy="575.0" r="8.2"/>
<circle cx="449.2" cy="584.7" r="8.2"/>
<circle cx="454.9" cy="592.6" r="6.9"/>
<circle cx="462.4" cy="601.3" r="8.3"/>
<circle cx="470.1" cy="609.0" r="6.6"/>
<circle cx="476.2" cy="616.2" r="7.4"/>
<circle cx="483.2" cy="622.8" r="8.1"/>
<circle cx="492.7" cy="630.4" r="6.5"/>
<circle cx="488.8" cy="639.2" r="8.1"/>
<circle cx="481.7" cy="648.3" r="8.1"/>
<circle cx="472.2" cy="652.3" r="6.3"/>
<circle cx="463.9" cy="656.4" r="8.1"/>
<circle cx="465.7" cy="666.3" r="6.9"/>
<circle cx="472.8" cy="672.3" r="7.1"/>
<circle cx="483.0" cy="675.0" r="8.4"/>
<circle cx="492.6" cy="675.0" r="6.0"/>
<circle cx="504.9" cy="677.0" r="8.3"/>
<circle cx="516.1" cy="683.5" r="7.1"/>
<circle cx="521.5" cy="694.7" r="8.4"/>
<circle cx="529.9" cy="699.0" r="7.9"/>
<circle cx="541.5" cy="703.2" r="7.7"/>
<circle cx="551.9" cy="706.9" r="6.8"/>
<circle cx="561.8" cy="710.1" r="6.6"/>
<circle cx="571.0" cy="710.5" r="7.5"/>
<circle cx="581.2" cy="711.0" r="8.1"/>
<circle cx="585.8" cy="717.5" r="8.3"/>
<circle cx="577.9" cy="726.1" r="8.4"/>
<circle cx="565.9" cy="729.9" r="8.3"/>
<circle cx="555.1" cy="733.1" r="6.0"/>
<circle cx="556.8" cy="738.7" r="6.4"/>
<circle cx="566.7" cy="739.2" r="7.7"/>
<circle cx="577.8" cy="737.9" r="7.1"/>
<circle cx="589.9" cy="738.9" r="7.6"/>
<circle cx="592.5" cy="748.8" r="6.7"/>
<circle cx="586.9" cy="758.0" r="7.2"/>
<circle cx="575.8" cy="762.9" r="6.9"/>
<circle cx="567.4" cy="768.0" r="7.4"/>
<circle cx="563.9" cy="777.1" r="6.4"/>
<circle cx="574.4" cy="783.0" r="8.4"/>
<circle cx="586.4" cy="783.2" r="8.1"/>
<circle cx="592.3" cy="776.8" r="7.6"/>
<circle cx="600.5" cy="767.5" r="6.1"/>
<circle cx="607.8" cy="760.5" r="6.7"/>
<circle cx="616.2" cy="765.5" r="7.1"/>
<circle cx="623.5" cy="772.9" r="8.0"/>
<circle cx="627.5" cy="764.8" r="6.1"/>
<circle cx="634.7" cy="760.3" r="6.3"/>
<circle cx="639.9" cy="767.6" r="8.5"/>
<circle cx="649.6" cy="772.0" r="6.2"/>
<circle cx="659.0" cy="776.6" r="6.8"/>
<circle cx="668.0" cy="779.4" r="6.9"/>
<circle cx="679.2" cy="781.0" r="7.5"/>
<circle cx="688.8" cy="785.0" r="6.5"/>
<circle cx="698.8" cy="787.5" r="6.3"/>
<circle cx="709.9" cy="788.6" r="7.9"/>
<circle cx="719.9" cy="791.1" r="6.2"/>
<circle cx="728.3" cy="795.9" r="7.0"/>
<circle cx="739.7" cy="794.9" r="8.0"/>
<circle cx="750.2" cy="794.0" r="8.1"/>
<circle cx="753.9" cy="802.7" r="7.1"/>
<circle cx="750.0" cy="812.4" r="7.3"/>
<circle cx="745.2" cy="823.1" r="7.1"/>
<circle cx="753.1" cy="826.0" r="7.2"/>
<circle cx="763.1" cy="826.0" r="7.4"/>
<circle cx="774.4" cy="827.8" r="6.2"/>
<circle cx="783.7" cy="833.1" r="7.1"/>
<circle cx="795.9" cy="835.5" r="8.4"/>
<circle cx="803.7" cy="829.3" r="8.3"/>
<circle cx="814.3" cy="827.9" r="6.7"/>
<circle cx="824.3" cy="832.3" r="6.3"/>
<circle cx="836.2" cy="834.0" r="7.7"/>
<circle cx="848.7" cy="834.3" r="8.1"/>
<circle cx="858.8" cy="840.1" r="7.9"/>
<circle cx="869.8" cy="839.5" r="6.3"/>
<circle cx="880.5" cy="841.7" r="6.0"/>
<circle cx="889.1" cy="845.9" r="8.0"/>
<circle cx="897.2" cy="850.2" r="6.2"/>
<circle cx="903.3" cy="857.3" r="8.3"/>
<circle cx="910.3" cy="863.9" r="6.1"/>
<circle cx="921.3" cy="869.2" r="6.3"/>
<circle cx="933.3" cy="872.2" r="7.8"/>
<circle cx="945.6" cy="873.0" r="8.5"/>
<circle cx="956.9" cy="873.1" r="8.1"/>
<circle cx="965.7" cy="875.5" r="8.0"/>
<circle cx="976.4" cy="878.4" r="7.9"/>
<circle cx="984.7" cy="882.5" r="7.9"/>
<circle cx="995.5" cy="889.0" r="6.2"/>
<circle cx="1005.8" cy="889.0" r="7.5"/>
<circle cx="1018.0" cy="890.3" r="6.6"/>
<circle cx="1027.4" cy="892.6" r="6.6"/>
<circle cx="1038.6" cy="895.2" r="8.0"/>
<circle cx="1048.9" cy="897.7" r="7.0"/>
<circle cx="1059.1" cy="900.2" r="6.9"/>
<circle cx="1069.5" cy="902.9" r="6.2"/>
<circle cx="1080.0" cy="906.0" r="8.5"/>
<circle cx="1090.3" cy="908.7" r="7.9"/>
<circle cx="1099.7" cy="910.7" r="7.8"/>
<circle cx="1111.4" cy="908.1" r="7.8"/>
<circle cx="1121.8" cy="904.3" r="7.3"/>
<circle cx="1132.5" cy="900.0" r="8.3"/>
<circle cx="1141.6" cy="897.1" r="6.2"/>
<circle cx="1142.4" cy="889.6" r="8.4"/>
<circle cx="1133.8" cy="882.6" r="7.2"/>
<circle cx="1122.9" cy="877.9" r="6.5"/>
<circle cx="1113.5" cy="874.5" r="6.5"/>
<circle cx="1102.3" cy="872.6" r="6.8"/>
<circle cx="1092.5" cy="871.1" r="7.8"/>
<circle cx="1079.8" cy="873.1" r="6.8"/>
<circle cx="1069.4" cy="870.9" r="7.1"/>
<circle cx="1066.3" cy="858.9" r="7.5"/>
<circle cx="1060.1" cy="852.0" r="6.6"/>
<circle cx="1051.0" cy="852.0" r="7.2"/>
<circle cx="1042.2" cy="847.3" r="6.4"/>
<circle cx="1035.3" cy="839.6" r="6.8"/>
<circle cx="1033.0" cy="827.7" r="6.4"/>
<circle cx="1035.2" cy="815.7" r="7.2"/>
<circle cx="1042.9" cy="808.0" r="7.2"/>
<circle cx="1055.2" cy="807.0" r="8.1"/>
<circle cx="1065.7" cy="805.0" r="7.3"/>
<circle cx="1058.6" cy="796.5" r="8.2"/>
<circle cx="1049.1" cy="792.0" r="7.9"/>
<circle cx="1038.1" cy="785.4" r="7.2"/>
<circle cx="1030.2" cy="779.4" r="6.6"/>
<circle cx="1024.3" cy="769.8" r="7.8"/>
<circle cx="1020.8" cy="757.8" r="8.2"/>
<circle cx="1013.7" cy="750.8" r="6.5"/>
<circle cx="1004.4" cy="747.7" r="6.5"/>
<circle cx="997.2" cy="740.6" r="8.2"/>
<circle cx="1005.6" cy="731.3" r="6.7"/>
<circle cx="1016.4" cy="725.8" r="6.8"/>
<circle cx="1026.8" cy="723.3" r="7.9"/>
<circle cx="1035.9" cy="721.1" r="6.2"/>
<circle cx="1047.7" cy="724.3" r="6.8"/>
<circle cx="1057.6" cy="727.6" r="7.5"/>
<circle cx="1068.7" cy="731.1" r="6.0"/>
<circle cx="1078.6" cy="734.1" r="7.1"/>
<circle cx="1089.2" cy="736.8" r="6.5"/>
<circle cx="1087.3" cy="732.4" r="8.5"/>
<circle cx="1077.2" cy="729.3" r="7.4"/>
<circle cx="1068.4" cy="725.8" r="6.7"/>
<circle cx="1058.2" cy="720.3" r="6.3"/>
<circle cx="1052.2" cy="709.3" r="8.4"/>
<circle cx="1046.9" cy="701.5" r="8.4"/>
<circle cx="1037.4" cy="697.6" r="8.0"/>
<circle cx="1026.0" cy="693.9" r="6.8"/>
<circle cx="1015.7" cy="688.4" r="7.7"/>
<circle cx="1005.1" cy="682.2" r="6.7"/>
<circle cx="996.3" cy="674.1" r="8.5"/>
<circle cx="990.2" cy="664.6" r="7.4"/>
<circle cx="986.7" cy="656.2" r="7.3"/>
<circle cx="978.7" cy="649.6" r="7.9"/>
<circle cx="972.5" cy="639.7" r="7.5"/>
<circle cx="964.5" cy="645.0" r="7.7"/>
<circle cx="956.8" cy="637.5" r="6.5"/>
<circle cx="948.3" cy="628.4" r="7.7"/>
<circle cx="941.8" cy="621.4" r="8.4"/>
<circle cx="933.9" cy="622.1" r="6.9"/>
<circle cx="924.5" cy="617.7" r="7.6"/>
<circle cx="915.4" cy="612.3" r="7.7"/>
<circle cx="905.3" cy="608.8" r="6.8"/>
<circle cx="897.4" cy="603.3" r="6.2"/>
<circle cx="895.0" cy="592.2" r="8.0"/>
<circle cx="888.9" cy="583.8" r="7.9"/>
<circle cx="879.6" cy="579.4" r="6.7"/>
<circle cx="869.7" cy="575.6" r="8.3"/>
<circle cx="861.2" cy="572.2" r="7.3"/>
<circle cx="852.0" cy="568.4" r="8.0"/>
<circle cx="846.1" cy="560.7" r="6.9"/>
<circle cx="843.1" cy="550.5" r="7.4"/>
<circle cx="834.8" cy="542.1" r="6.9"/>
<circle cx="828.2" cy="532.6" r="6.3"/>
<circle cx="830.9" cy="524.4" r="6.3"/>
<circle cx="823.7" cy="518.3" r="8.0"/>
<circle cx="813.4" cy="512.3" r="6.5"/>
<circle cx="805.7" cy="513.8" r="7.1"/>
<circle cx="795.9" cy="519.9" r="8.1"/>
<circle cx="787.6" cy="511.5" r="7.5"/>
<circle cx="782.1" cy="503.8" r="7.0"/>
<circle cx="785.1" cy="494.6" r="7.4"/>
<circle cx="786.6" cy="483.7" r="6.5"/>
<circle cx="786.1" cy="473.7" r="8.0"/>
<circle cx="787.5" cy="464.8" r="8.1"/>
<circle cx="777.0" cy="460.0" r="8.5"/>
<circle cx="766.5" cy="460.1" r="7.4"/>
<circle cx="755.2" cy="460.6" r="7.6"/>
<circle cx="742.4" cy="461.6" r="7.8"/>
<circle cx="732.5" cy="464.3" r="8.2"/>
<circle cx="722.0" cy="467.0" r="7.6"/>
<circle cx="710.5" cy="463.8" r="6.0"/>
<circle cx="699.3" cy="459.4" r="7.7"/>
<circle cx="689.9" cy="453.8" r="7.4"/>
<circle cx="682.7" cy="446.0" r="6.5"/>
<circle cx="675.2" cy="438.0" r="6.1"/>
<circle cx="666.8" cy="430.8" r="7.7"/>
<circle cx="656.5" cy="428.5" r="7.5"/>
<circle cx="650.3" cy="417.4" r="8.3"/>
<circle cx="643.5" cy="410.6" r="8.1"/>
<circle cx="636.3" cy="401.7" r="6.1"/>
<circle cx="628.0" cy="396.7" r="6.6"/>
<circle cx="619.6" cy="393.5" r="7.4"/>
<circle cx="611.5" cy="383.8" r="6.8"/>
<circle cx="602.7" cy="374.8" r="7.8"/>
<circle cx="595.4" cy="368.9" r="8.2"/>
<circle cx="585.8" cy="362.8" r="8.4"/>
<circle cx="579.8" cy="352.5" r="7.9"/>
<circle cx="578.7" cy="342.6" r="8.1"/>
<circle cx="570.2" cy="335.4" r="8.2"/>
<circle cx="560.9" cy="331.5" r="8.0"/>
<circle cx="553.8" cy="323.3" r="6.3"/>
<circle cx="546.5" cy="317.6" r="6.2"/>
<circle cx="544.5" cy="308.3" r="6.4"/>
<circle cx="538.7" cy="300.0" r="7.8"/>
<circle cx="528.1" cy="298.1" r="7.1"/>
<circle cx="526.4" cy="286.8" r="6.8"/>
<circle cx="522.2" cy="277.2" r="8.0"/>
<circle cx="512.9" cy="273.1" r="6.5"/>
<circle cx="504.6" cy="264.2" r="7.9"/>
<circle cx="499.2" cy="255.3" r="7.0"/>
<circle cx="496.3" cy="244.6" r="7.6"/>
<circle cx="493.8" cy="235.0" r="6.0"/>
<circle cx="491.2" cy="225.5" r="8.0"/>
<circle cx="492.8" cy="216.2" r="7.2"/>
<circle cx="495.2" cy="206.7" r="6.5"/>
<circle cx="491.9" cy="198.1" r="7.0"/>
<circle cx="486.5" cy="190.1" r="6.1"/>
<circle cx="480.3" cy="182.9" r="6.4"/>
<circle cx="472.4" cy="175.4" r="6.2"/>
<circle cx="465.3" cy="169.7" r="7.2"/>
<circle cx="456.9" cy="163.3" r="7.8"/>
<circle cx="448.7" cy="161.2" r="7.0"/>
<circle cx="439.4" cy="159.0" r="6.1"/>
<circle cx="436.7" cy="146.8" r="6.6"/>
<circle cx="430.3" cy="150.5" r="7.2"/>
<circle cx="422.4" cy="154.7" r="7.6"/>
<circle cx="418.8" cy="145.9" r="6.3"/>
<circle cx="418.3" cy="136.7" r="7.9"/>
<circle cx="415.4" cy="127.4" r="8.0"/>
<circle cx="407.5" cy="120.6" r="8.4"/>
<circle cx="399.9" cy="114.5" r="6.6"/>
<circle cx="395.9" cy="105.6" r="8.1"/>
</g>
<g clip-path="url(#cl)">
<path fill="#7100ff" fill-rule="evenodd" d="M302 472 302 474 306 474 320 474 322 474 320 470 312 466 306 468ZM582 394 580 390 570 392 570 396 580 396ZM370 262 370 264 372 266 372 262ZM386 268 384 278 378 282 384 296 390 306 392 306 396 302 410 306 412 308 412 316 410 318 402 318 396 314 390 318 388 318 384 324 374 326 372 330 372 336 380 346 384 348 404 350 408 346 406 344 408 340 410 340 422 340 426 332 430 328 426 326 424 322 426 320 430 320 434 326 440 328 442 338 446 342 456 346 460 346 472 354 474 360 484 366 486 376 488 378 490 378 494 376 504 378 508 382 502 386 500 390 494 392 490 390 480 390 478 396 474 398 472 402 476 404 478 396 486 396 490 398 490 408 486 412 486 418 482 420 478 418 474 420 480 422 482 428 480 442 476 448 466 444 462 440 458 438 454 434 446 432 440 430 434 434 432 442 430 444 428 450 432 456 436 456 440 462 448 462 450 466 450 472 452 476 456 480 462 480 464 486 464 488 462 492 458 492 452 492 442 486 428 488 424 484 416 484 410 486 408 496 406 500 402 500 396 498 392 494 388 492 384 488 380 488 370 488 360 484 354 484 348 486 348 492 344 494 342 492 340 484 330 482 328 478 324 476 324 480 328 484 328 494 326 496 320 496 320 498 324 500 328 504 342 510 342 510 346 510 350 508 356 508 356 504 358 502 360 502 362 504 358 510 358 514 360 518 366 524 366 530 370 538 382 546 396 546 404 556 408 558 412 562 420 568 424 568 426 564 430 562 434 570 440 574 440 578 446 580 454 586 456 586 460 592 470 598 476 598 482 600 484 602 486 608 488 610 498 612 502 610 506 608 508 608 512 616 512 620 514 624 526 628 528 632 534 632 544 636 550 642 552 648 558 652 576 668 578 674 582 678 588 684 586 704 588 708 592 710 608 712 618 708 620 708 630 718 638 722 644 720 648 724 650 730 660 736 662 740 660 744 666 752 668 752 674 760 684 762 686 764 684 772 690 778 704 784 716 788 720 792 722 796 724 798 728 800 734 800 742 804 748 810 760 814 768 818 774 818 780 822 788 824 792 820 796 820 800 818 806 824 810 826 812 830 820 834 834 836 842 844 842 846 846 850 854 852 858 850 876 860 878 862 876 868 880 870 882 868 884 870 888 872 892 882 906 888 908 886 912 890 912 892 916 896 926 896 930 898 934 904 944 906 948 914 958 916 962 912 964 914 968 912 974 914 974 918 978 922 978 926 982 926 984 928 984 932 988 932 990 934 1190 934 1190 916 1188 914 1188 912 1190 910 1190 906 1188 906 1186 910 1184 910 1178 902 1182 898 1184 896 1184 892 1186 890 1186 886 1180 880 1176 878 1172 878 1160 868 1156 862 1158 858 1156 854 1154 856 1150 854 1152 852 1150 848 1140 844 1136 840 1138 838 1130 830 1126 832 1122 830 1124 822 1122 820 1116 814 1114 816 1112 816 1106 814 1102 810 1104 802 1110 798 1106 790 1106 784 1104 780 1102 786 1098 788 1094 782 1090 782 1086 778 1082 768 1072 768 1070 766 1070 762 1074 760 1078 756 1082 754 1082 752 1082 744 1080 744 1070 744 1068 746 1060 742 1054 732 1054 728 1062 726 1058 724 1054 728 1046 720 1046 710 1044 704 1038 698 1030 690 1026 690 1022 684 1012 682 1004 678 1004 672 1012 662 1004 658 994 656 990 654 990 646 992 642 992 638 988 632 982 632 978 638 970 638 962 632 958 628 958 626 964 624 964 620 966 616 964 612 960 610 958 612 948 612 942 610 942 606 946 602 944 596 934 594 932 596 926 596 922 594 918 596 916 594 920 592 918 588 920 586 920 580 914 578 908 572 904 562 898 568 888 558 886 552 884 550 876 546 872 540 864 540 856 530 860 524 858 524 854 526 844 526 842 524 840 516 830 516 828 520 826 522 812 504 808 496 806 496 798 496 792 490 794 488 794 484 792 482 790 480 788 482 786 480 780 480 776 476 776 474 772 470 766 470 758 474 752 474 748 472 748 470 756 468 754 466 748 464 744 470 740 468 736 462 726 462 722 466 720 464 722 462 720 458 722 456 730 454 730 452 724 450 710 448 704 446 688 444 684 436 680 432 684 428 682 426 674 424 672 428 674 430 672 436 670 436 666 430 660 428 656 420 654 422 652 426 644 426 630 418 618 420 612 424 608 422 608 414 606 410 604 410 602 414 598 416 592 422 588 414 588 404 592 402 586 398 584 398 582 404 580 408 578 408 574 412 570 412 568 416 564 414 562 404 552 406 550 414 548 416 540 416 538 414 532 402 538 396 550 396 550 392 556 388 558 382 562 376 562 366 564 356 564 346 566 344 568 322 562 316 558 308 558 304 550 290 552 284 544 272 532 260 530 256 516 242 516 240 506 228 494 224 486 216 474 210 462 214 456 212 450 216 446 234 442 236 444 242 442 246 446 250 446 252 442 258 440 266 442 270 438 272 434 272 430 264 428 264 424 262 416 264 412 258 404 256 400 258 402 264 398 268 388 266ZM1152 858 1156 860 1154 864 1150 864 1148 862ZM1002 680 1002 678 1006 680 1004 680ZM894 566 896 568 892 572 888 568 890 566ZM538 514 542 516 542 526 544 528 548 528 550 532 550 536 548 538 540 538 538 534 532 532 530 526 530 520ZM498 510 500 508 506 514 522 514 524 518 522 520 502 522 498 518ZM780 498 780 496 782 498 782 498ZM786 490 788 488 790 490 790 492ZM414 488 424 488 426 500 432 502 434 504 432 512 430 514 426 514 424 506 418 500 414 498 412 490ZM540 484 544 492 542 496 538 496 536 498 532 500 530 498 532 494 534 492 536 486ZM448 438 450 436 452 438 450 438ZM650 430 652 432 650 434 648 432ZM594 424 594 422 606 424 606 424 606 434 604 436 602 430 596 430ZM530 420 532 418 536 418 534 422ZM486 418 488 418 492 422 490 432 496 434 500 438 500 442 504 446 502 450 492 450 490 458 484 454 484 450 490 448 490 444 488 440 488 438 486 438 484 434 484 418ZM528 388 528 390 526 392 526 394 518 400 518 406 518 410 522 412 522 414 524 418 524 422 522 424 514 426 506 424 504 422 504 418 512 414 510 410 506 410 504 408 506 400 514 396 518 390 524 390ZM512 374 516 374 516 376 514 376ZM332 210 328 214 326 220 320 226 322 234 330 242 336 248 352 250 356 252 360 252 366 244 364 240 364 238 366 236 368 230 370 226 368 224 370 222 366 214 364 212 354 208 350 208 346 212 342 210ZM412 132 404 126 394 126 390 130 386 130 378 138 378 144 374 150 366 154 356 156 350 162 348 168 344 172 344 176 348 182 352 186 360 188 364 184 370 190 378 188 386 182 388 172 390 168 390 164 396 156 408 152 410 150 414 144 414 136ZM376 152 384 150 386 152 386 156 382 156Z"/>
<path fill="#5d00ff" fill-rule="evenodd" d="M1182 922 1180 922 1182 924ZM586 654 586 658 586 660 588 660ZM444 568 450 568 450 566ZM506 502 506 504 508 506 510 502ZM500 488 498 494 502 498 502 490ZM488 474 484 476 478 476 478 480 474 484 476 488 482 494 490 492 492 490 490 488 492 480 490 476ZM462 450 458 454 456 458 458 470 474 470 476 466 470 458ZM522 450 520 450 522 454 524 452ZM440 450 440 450 440 454 444 456 446 454 446 450ZM414 518 416 524 420 528 420 532 430 538 428 550 430 552 438 552 440 556 440 558 442 562 444 562 450 562 452 566 458 566 460 572 468 576 466 580 466 582 470 588 484 592 488 596 492 594 502 596 506 600 516 606 518 608 518 610 532 622 536 622 540 614 542 618 548 618 554 622 554 628 556 632 558 638 566 644 574 646 578 642 584 642 588 646 590 650 600 652 602 654 602 658 602 670 606 680 598 684 592 692 590 696 590 702 592 704 600 704 604 706 606 706 610 704 610 700 612 698 620 696 624 692 632 692 634 694 632 704 634 710 650 718 656 726 666 728 668 732 672 740 684 744 690 742 692 746 692 752 698 758 696 762 698 766 696 770 700 772 704 774 708 778 722 782 734 792 748 796 752 800 756 800 762 808 770 808 774 802 780 802 784 804 784 808 788 810 784 814 788 816 790 812 796 812 800 808 802 808 806 802 814 806 818 812 818 814 820 818 818 822 826 828 834 830 836 830 834 822 836 820 840 820 844 824 842 828 846 832 844 836 854 838 856 834 858 834 862 838 862 842 872 850 884 850 888 854 890 858 894 862 896 866 900 868 904 866 912 866 914 870 912 872 904 874 904 874 908 874 912 876 914 874 918 874 926 884 926 886 934 892 936 896 938 898 944 896 948 892 950 892 954 894 960 902 964 904 968 902 974 904 980 904 984 908 982 914 984 920 988 924 992 924 1000 916 1002 916 1006 920 1012 926 1012 930 1018 934 1180 934 1178 930 1176 928 1176 916 1168 910 1166 910 1160 902 1160 896 1156 892 1150 890 1148 888 1152 884 1152 880 1154 878 1154 876 1146 866 1140 866 1138 860 1132 862 1126 854 1124 848 1126 844 1124 844 1120 846 1118 844 1114 848 1110 848 1106 842 1110 832 1108 828 1104 826 1102 822 1094 816 1090 814 1088 818 1080 816 1078 814 1076 804 1074 800 1068 800 1060 800 1056 798 1054 790 1058 786 1058 780 1054 780 1050 778 1050 776 1044 772 1044 762 1042 756 1038 754 1036 746 1034 744 1030 750 1026 748 1022 754 1018 752 1018 750 1024 746 1020 736 1024 732 1034 730 1038 724 1040 708 1038 706 1032 698 1024 692 1016 692 1008 694 1002 694 996 698 988 694 986 692 984 686 974 682 960 670 960 668 960 664 960 652 962 650 960 642 958 640 952 638 948 634 938 630 922 622 922 620 928 616 926 610 924 608 916 606 910 606 906 602 904 594 896 586 896 584 892 582 890 582 888 584 888 588 884 590 882 588 882 582 874 574 868 572 860 562 860 558 858 554 856 558 856 560 856 566 850 566 842 560 842 554 838 548 832 546 824 548 822 546 822 540 824 538 826 532 824 530 812 528 808 528 800 524 796 524 794 522 796 520 792 516 792 512 784 508 774 506 766 502 764 498 764 494 760 488 758 488 748 484 744 484 740 480 736 480 732 476 732 474 728 470 716 476 708 476 702 472 696 454 692 454 682 450 674 450 668 452 664 454 654 456 650 460 650 464 646 470 644 472 640 470 632 468 626 472 618 472 614 466 616 458 624 454 622 450 622 446 618 440 616 444 616 452 614 456 602 456 596 458 594 462 584 462 580 458 576 458 574 460 572 458 572 454 568 450 564 450 562 448 540 446 538 448 540 450 540 454 542 456 542 460 540 462 538 462 536 458 532 460 528 454 524 456 524 460 530 468 544 476 544 480 550 484 550 488 554 490 560 498 558 504 562 508 566 518 568 516 570 514 574 514 582 514 584 508 588 512 584 516 586 520 582 524 584 526 590 528 598 538 598 540 598 544 596 546 584 548 582 556 586 558 592 558 602 566 604 578 606 580 606 590 604 592 590 590 586 588 582 584 580 576 582 570 580 566 570 566 568 568 568 572 572 574 576 576 566 580 562 576 562 572 556 570 556 562 552 560 548 554 540 554 516 530 512 528 510 530 506 530 502 534 500 534 498 532 496 522 488 518 482 518 478 514 472 512 470 510 466 510 462 514 460 512 454 514 452 510 442 510 440 514 436 516 434 522 420 522 418 516ZM1146 880 1146 880 1148 880 1146 882ZM1134 864 1136 868 1132 870 1130 866 1132 864ZM832 812 836 816 834 820 830 820 828 818 828 816ZM978 706 980 702 984 702 986 706 984 710 982 710ZM622 670 626 670 630 674 628 682 624 684 622 682 620 672ZM604 644 608 646 608 650 606 652 602 650 602 646ZM612 640 614 642 610 644 610 642ZM578 608 580 608 582 608 580 610ZM526 600 528 602 528 604 524 604ZM480 568 482 570 478 574 478 576 476 578 472 578 472 578 472 568 474 566ZM620 562 624 558 630 560 634 562 634 566 638 566 640 570 638 572 630 572 624 578 620 570 622 568 620 566ZM492 550 496 550 496 558 492 558 492 552ZM466 538 476 540 478 542 480 546 478 552 476 554 468 554 464 552 464 540ZM602 538 604 536 608 540 612 540 616 542 616 546 612 548 602 546 600 544ZM440 526 450 526 452 528 452 534 458 538 450 548 448 548 446 546 444 540 438 534 438 528ZM434 522 436 522 436 522 436 524ZM458 524 460 520 462 520 464 522 464 526 460 528ZM576 498 572 502 568 502 566 502 568 506 566 508 562 506 564 502 562 498 564 496 574 496ZM634 490 636 488 640 488 642 490 642 492 640 494 636 494ZM524 440 528 442 530 440 528 440ZM540 370 538 374 540 378 544 374 544 372ZM412 328 406 324 396 322 390 324 386 332 384 334 378 332 378 336 386 340 388 338 394 340 398 340 404 334 410 332ZM460 224 456 236 456 246 454 250 454 252 460 264 454 272 454 286 450 290 448 290 444 282 442 282 438 290 436 298 444 302 448 298 448 292 450 294 454 292 458 296 460 310 462 312 466 312 470 316 466 320 468 330 472 332 476 336 480 344 484 350 488 356 492 356 496 360 502 364 508 362 512 364 538 364 540 366 544 358 544 348 548 346 554 346 558 342 556 334 550 330 550 328 554 324 558 324 558 322 554 320 548 310 550 304 542 294 542 282 534 270 530 268 524 260 518 256 512 252 508 254 504 250 494 236 494 234 490 230 476 220 464 222ZM334 216 328 228 332 236 338 242 352 244 356 236 358 232 358 228 356 228 350 228 348 226 348 220 346 216 342 216ZM384 166 376 164 372 160 368 158 360 158 356 160 350 172 352 178 358 182 366 182 370 178 376 180 384 170ZM404 132 398 132 394 136 394 144 396 146 402 146 408 142 408 136Z"/>
<path fill="#4900ff" fill-rule="evenodd" d="M1162 934 1166 934 1166 932 1162 932ZM600 690 598 692 592 698 594 702 596 700 600 702 602 700 602 692ZM612 686 610 688 612 688 614 688ZM612 670 610 676 612 678 614 672ZM948 646 946 650 950 650ZM612 568 612 570 612 570 612 568ZM460 562 462 564 470 566 472 564 470 562 464 560ZM506 540 510 540 512 542 512 544 512 546 522 546 520 544 514 544 512 542 514 540 514 538 506 536ZM466 518 466 520 470 522 472 526 484 536 486 546 498 544 496 534 490 526 486 526 482 528 478 528 476 526 476 522 474 518 472 516ZM578 502 578 504 580 506 582 502ZM558 470 556 474 552 476 554 480 558 476 560 478 560 484 566 492 570 490 574 490 576 470 574 468 566 468ZM484 562 484 564 488 568 488 576 486 580 486 586 488 588 496 590 500 588 502 590 508 594 510 594 512 590 528 590 534 592 536 598 540 600 554 598 560 602 558 604 554 606 550 606 546 606 546 608 550 610 552 616 566 618 568 618 568 614 572 610 574 610 574 606 580 600 586 600 592 608 592 612 596 614 594 618 584 618 582 620 584 632 588 636 590 642 592 644 600 644 604 638 610 636 618 638 620 640 616 646 614 660 620 664 624 668 634 672 634 674 634 688 636 690 640 688 642 682 646 680 650 674 654 674 660 678 660 682 660 694 652 698 642 696 640 700 636 704 636 706 638 708 646 708 650 714 654 714 656 720 660 718 660 712 662 710 666 710 672 716 676 722 684 720 684 718 688 714 692 714 692 712 696 710 698 714 694 718 692 728 696 736 698 738 710 734 718 738 718 742 714 748 700 750 702 754 704 754 706 758 708 772 718 776 722 776 726 780 734 788 742 790 748 790 760 800 770 800 774 796 782 796 784 800 792 804 796 804 800 800 802 800 806 798 814 800 818 806 828 806 830 804 832 804 836 806 838 814 840 818 848 820 850 824 850 828 852 830 856 826 866 828 868 830 866 836 870 844 878 846 886 846 898 862 902 860 912 862 916 868 926 874 936 888 944 886 948 890 958 890 964 894 968 894 976 902 986 904 988 908 986 914 988 916 990 916 994 912 1002 914 1010 918 1014 922 1016 922 1020 922 1028 928 1028 932 1034 934 1090 934 1090 934 1092 934 1148 934 1148 932 1160 920 1160 914 1154 910 1154 906 1148 902 1146 892 1142 888 1132 874 1122 870 1122 860 1114 854 1104 852 1098 846 1096 846 1094 850 1090 848 1092 846 1090 840 1094 838 1092 834 1094 830 1090 828 1090 838 1084 838 1080 836 1074 828 1076 826 1076 824 1072 818 1068 818 1066 816 1064 816 1060 818 1058 816 1056 802 1052 800 1050 798 1048 784 1046 782 1044 784 1044 786 1042 790 1040 788 1034 788 1026 786 1024 784 1026 782 1032 780 1034 776 1038 782 1042 782 1044 780 1042 776 1038 772 1034 764 1030 766 1026 764 1022 768 1018 766 1014 762 1012 760 1008 758 1004 754 998 752 1000 748 1006 746 1010 742 1014 740 1016 732 1020 728 1028 726 1034 722 1036 716 1036 708 1036 706 1032 702 1028 698 1022 694 1018 694 1016 696 1004 698 1000 702 1000 708 994 712 994 714 988 714 984 716 980 716 978 722 974 724 972 720 972 718 974 714 972 708 972 698 966 694 964 684 958 676 952 674 952 672 956 668 956 664 954 658 952 662 948 660 944 668 940 664 936 664 934 660 934 654 942 648 940 646 942 644 940 640 922 628 910 614 908 614 906 622 904 622 900 614 896 612 890 606 886 610 878 610 872 602 874 598 874 594 876 590 874 582 870 580 866 590 858 588 854 586 854 580 848 576 846 570 842 566 840 562 836 558 834 556 832 552 826 552 820 548 816 542 820 536 818 536 808 536 798 530 798 532 792 530 790 528 788 518 778 510 768 510 762 506 748 506 744 496 738 494 736 490 722 486 720 482 708 480 700 476 696 472 696 468 688 458 682 456 672 456 664 460 666 464 664 466 664 480 662 482 658 468 658 468 658 470 656 474 646 480 642 480 638 476 630 476 628 478 630 482 638 482 642 486 654 490 654 492 648 496 646 500 636 500 632 494 626 496 620 494 616 490 620 486 616 478 608 474 606 466 604 468 602 474 606 474 608 478 606 480 602 482 596 482 594 480 594 472 590 470 588 466 586 466 582 466 584 472 580 488 584 498 588 502 590 506 590 520 594 522 596 526 600 526 604 532 612 534 620 542 622 550 632 552 634 556 634 558 638 560 642 564 646 568 648 570 652 574 652 576 648 580 646 590 642 592 638 594 632 590 634 584 632 580 630 580 630 586 628 588 624 588 618 588 614 590 614 592 612 596 614 602 610 606 608 616 614 618 618 624 626 624 628 620 630 618 632 618 636 624 636 628 634 632 630 632 626 630 622 630 616 632 614 628 598 624 596 620 600 618 600 602 592 594 584 594 578 586 576 586 568 586 560 578 558 578 554 574 550 574 546 572 540 574 538 572 538 568 540 566 546 566 548 566 548 564 536 554 532 552 528 548 524 548 524 560 520 564 518 560 516 554 506 552 504 554 504 560 502 562 500 566 494 566 490 560 486 560ZM1038 928 1040 926 1052 926 1054 928 1052 930 1048 930ZM720 756 722 754 724 756 724 760 722 762 718 758ZM718 746 722 744 722 746 720 748ZM996 724 998 720 1008 722 1012 726 1012 734 1010 736 1002 734 996 728ZM672 700 672 692 676 690 686 690 692 692 692 696 686 698 684 702 680 702 678 698 674 702ZM950 682 952 684 954 694 952 696 948 696 946 694 946 686ZM640 620 646 614 652 612 656 620 656 624 666 626 666 636 662 638 660 632 654 630 652 626 640 624ZM648 594 654 592 660 594 662 600 660 612 656 612 654 610 652 600 648 598ZM662 590 662 586 670 586 672 588 670 592ZM532 574 536 574 536 576 532 578ZM500 570 504 574 504 576 502 578 496 576ZM512 568 514 568 516 572 512 572ZM654 564 656 562 658 564 654 566ZM650 556 652 558 650 560 648 558ZM656 500 658 502 658 506 656 508 652 504ZM660 498 662 496 666 496 664 500 660 500ZM544 332 542 336 546 342 548 336 546 332ZM394 332 398 332 402 330 396 328ZM468 230 464 234 462 240 464 242 464 252 470 258 468 276 466 278 466 268 462 268 460 270 460 290 466 296 468 304 474 308 474 318 470 320 472 326 476 330 480 332 480 334 490 346 496 348 498 348 508 348 510 354 516 358 534 358 536 356 536 350 538 348 532 346 530 344 530 340 532 336 532 330 536 326 538 328 538 330 538 334 540 336 538 330 540 320 542 316 540 306 538 302 536 302 538 286 536 282 528 274 520 262 514 260 508 260 496 248 486 248 484 244 486 238 486 234 482 230 474 228ZM478 330 480 328 480 330 480 332ZM338 220 336 224 336 230 340 236 346 238 346 236 342 234 344 228 342 222 340 220ZM366 162 358 166 356 176 358 178 362 176 366 176 372 170 368 162Z"/>
<path fill="#3500ff" fill-rule="evenodd" d="M1022 696 1004 702 1002 708 1004 718 1010 722 1014 724 1018 724 1028 722 1036 714 1036 710 1030 704 1028 700ZM922 634 920 636 924 636 924 636ZM910 622 908 630 918 630 918 626 912 626ZM574 600 564 602 564 610 568 610 568 606 570 604 574 604ZM614 616 620 618 626 618 632 614 636 614 640 608 642 610 644 610 646 606 642 604 640 608 636 602 634 598 628 596 620 596 618 598 614 608ZM536 582 538 592 542 596 548 592 550 584 554 584 558 586 562 586 560 580 550 580 548 586 546 586 544 582 542 580ZM508 562 506 564 508 564 510 562ZM532 556 530 558 530 560 530 566 526 566 524 572 518 574 518 578 516 582 522 584 524 576 528 572 530 566 538 564 536 558ZM626 540 624 544 628 544 628 542ZM618 534 618 536 620 536ZM488 530 486 538 488 540 490 536 490 532ZM656 484 656 486 658 486 658 484ZM584 484 584 486 588 490 590 498 594 504 592 510 594 518 596 520 600 522 604 526 608 526 612 532 620 530 622 526 634 528 638 526 640 528 640 534 642 538 632 542 634 546 634 548 640 552 652 552 656 556 656 558 666 560 668 562 666 566 664 566 660 568 660 578 654 582 654 584 650 588 650 590 652 590 658 588 660 580 670 580 674 586 678 588 678 590 672 594 662 594 662 596 666 600 668 610 664 614 662 614 662 616 668 620 670 628 672 628 672 620 676 616 678 618 680 622 688 626 692 626 694 614 696 612 704 612 710 612 712 614 710 618 698 620 698 624 696 626 696 630 700 636 694 640 694 644 690 650 688 650 686 646 666 644 658 638 652 630 644 630 640 638 630 644 626 642 624 646 622 660 630 668 634 670 638 674 646 674 648 670 658 672 662 680 668 688 672 690 674 686 684 686 692 688 694 690 696 694 694 698 694 702 686 704 682 708 676 708 674 714 684 716 686 712 686 708 692 708 694 704 702 704 704 706 702 710 702 714 698 718 698 722 696 724 702 732 706 732 708 730 716 730 724 740 730 740 732 744 732 748 730 750 732 768 730 776 736 782 746 782 756 782 758 784 756 788 760 792 760 796 770 796 772 792 776 792 778 790 788 788 790 790 790 796 792 798 796 798 798 794 810 794 810 790 814 788 816 790 816 794 814 796 814 798 820 800 828 800 832 798 840 806 840 810 844 818 852 818 856 824 868 826 870 830 868 834 870 838 874 842 878 844 888 846 890 848 894 852 898 858 912 858 916 864 924 870 926 870 928 868 934 868 936 870 934 872 930 874 934 876 938 882 962 890 970 890 980 898 990 898 992 900 992 908 994 910 1002 910 1008 914 1012 914 1018 914 1024 914 1026 912 1030 914 1032 920 1034 922 1038 920 1046 920 1058 922 1062 928 1058 932 1060 934 1076 934 1086 928 1100 928 1102 930 1104 934 1144 934 1148 928 1148 926 1152 924 1154 914 1150 908 1150 906 1144 902 1140 892 1138 888 1134 886 1134 882 1124 876 1120 878 1118 878 1114 876 1118 868 1116 864 1114 860 1110 860 1108 866 1102 866 1100 860 1106 856 1102 852 1092 854 1084 852 1080 848 1082 846 1080 842 1072 840 1064 834 1062 826 1060 826 1056 822 1054 812 1048 806 1046 806 1044 812 1040 814 1038 810 1036 800 1034 796 1032 796 1030 800 1026 798 1026 794 1028 790 1022 788 1020 784 1026 778 1030 770 1026 768 1024 770 1014 768 1010 762 1008 762 1002 756 988 754 986 752 984 742 988 740 986 738 990 734 994 734 994 732 990 730 990 726 990 720 990 718 986 718 986 722 980 724 980 728 978 730 966 730 966 744 964 746 960 744 956 744 954 742 954 738 954 732 960 728 964 728 964 724 966 720 964 698 960 696 954 696 952 698 948 698 942 696 932 696 930 692 932 690 940 690 940 678 938 672 932 668 932 666 924 660 922 656 914 644 914 640 910 638 904 632 894 632 894 630 894 626 896 624 894 614 890 612 888 616 884 618 876 616 870 612 866 606 862 608 856 606 854 610 852 610 850 606 854 604 854 600 858 598 866 596 856 594 852 586 848 586 844 580 840 578 836 576 836 572 828 558 826 554 820 554 816 550 814 542 804 540 798 534 788 532 784 528 786 528 784 518 782 516 772 514 770 518 766 518 762 512 756 510 748 510 744 508 744 502 736 496 732 496 728 492 722 492 718 486 712 484 708 484 704 488 682 494 680 492 680 484 682 482 690 482 694 480 690 468 684 460 680 458 670 460 670 460 670 464 668 468 670 492 672 496 672 498 664 502 662 502 658 512 652 516 648 516 646 514 646 504 640 502 634 502 632 506 630 506 626 514 622 514 618 516 616 512 614 508 610 508 608 504 610 500 616 500 612 496 612 492 610 490 612 486 608 488 604 488 594 482 588 482ZM760 748 764 748 770 752 768 756 762 758 764 760 766 772 772 776 772 780 776 782 776 786 768 788 764 786 764 776 754 774 750 768 752 758 754 756 758 756 758 752ZM952 710 954 712 952 716 948 714 948 716 946 722 944 726 942 724 938 726 934 720 936 716 940 716 940 712 942 708 946 708 948 710ZM892 630 894 632 892 642 888 640 888 638 884 634ZM692 598 694 602 692 610 686 612 680 612 678 610 680 606 682 604 684 604 688 598ZM676 568 678 570 676 572 674 570ZM682 542 684 542 684 544 682 546ZM724 538 726 544 722 548 718 546 718 542 722 538ZM708 524 708 524 710 524 708 526ZM618 524 618 526 616 526 616 526ZM654 524 662 520 664 520 670 524 666 528 656 528ZM734 514 738 514 736 520 732 518 732 516ZM474 236 468 242 466 248 468 252 474 256 476 262 476 278 474 280 466 282 466 290 472 294 472 298 476 302 476 316 474 320 474 324 476 326 480 326 486 330 484 334 490 338 490 342 496 344 508 344 516 346 520 342 524 340 526 334 528 332 530 322 534 318 530 308 530 302 532 298 532 294 534 292 534 286 526 278 522 278 520 276 522 272 518 266 512 262 504 260 494 252 490 252 486 252 480 244 480 242 484 238 480 236Z"/>
<path fill="#2a12ff" fill-rule="evenodd" d="M1112 930 1112 932 1114 932ZM1092 862 1090 864 1090 866 1092 864ZM1096 856 1096 858 1100 858 1100 856ZM968 736 968 740 976 742 978 740 976 736ZM956 724 954 726 956 726ZM704 718 702 718 702 722 704 726 706 724ZM1034 710 1028 706 1024 700 1020 698 1014 702 1008 702 1006 704 1004 714 1010 720 1020 718 1026 720 1034 714ZM890 618 888 624 892 624 892 620ZM698 604 694 606 696 610 700 610 700 606ZM704 600 702 606 704 608 704 600ZM628 600 626 598 620 602 618 606 616 614 618 616 628 614 632 606ZM668 568 666 572 662 574 662 576 672 578 672 576 672 568ZM640 510 638 508 636 508 634 512 628 516 628 520 634 520 634 516 640 514ZM736 504 734 506 734 506ZM662 510 662 514 668 514 672 516 674 526 672 528 668 528 666 532 654 534 652 528 648 528 650 538 646 542 646 544 650 550 656 554 670 556 676 562 682 564 686 566 686 574 678 582 682 588 680 598 678 600 670 600 670 602 670 604 680 604 682 600 686 598 686 594 688 592 702 594 708 592 710 594 710 610 716 616 714 618 706 620 706 624 702 626 702 628 706 634 702 642 708 646 706 662 712 666 712 676 714 680 710 682 708 682 706 678 700 674 698 670 690 670 688 668 688 662 686 660 686 656 684 654 674 654 670 658 668 654 666 650 660 644 658 640 654 640 650 634 646 636 646 640 644 642 640 642 630 650 626 660 634 668 640 670 660 670 670 686 674 682 682 682 696 684 700 696 704 698 710 706 708 712 710 714 714 714 720 718 722 720 720 722 722 726 720 732 724 734 730 736 736 742 742 744 740 748 734 748 734 750 734 760 738 764 738 766 740 766 744 766 744 762 748 758 754 750 756 750 760 746 770 748 774 754 776 762 778 766 776 768 778 780 780 784 794 780 798 784 798 790 802 790 804 788 808 788 810 784 814 782 822 792 820 796 820 796 828 796 830 794 834 794 848 806 848 808 852 808 854 812 854 814 860 822 870 824 874 830 872 834 876 840 880 842 886 842 890 838 892 838 900 844 898 848 898 850 902 848 906 854 912 856 920 866 922 866 926 866 928 864 936 866 942 870 942 872 942 874 944 876 946 878 944 878 946 882 950 884 956 882 962 888 972 888 974 886 976 888 978 894 982 898 988 896 992 898 994 902 994 906 996 908 1012 910 1016 910 1020 906 1028 906 1032 910 1038 916 1060 918 1072 928 1068 932 1072 934 1074 934 1074 930 1078 928 1082 928 1084 924 1108 924 1112 928 1114 928 1120 922 1126 922 1130 924 1136 926 1134 934 1140 934 1140 930 1146 928 1146 924 1148 922 1148 914 1146 908 1144 906 1142 906 1138 912 1138 910 1130 912 1124 908 1128 900 1134 894 1130 890 1128 882 1126 878 1124 878 1120 882 1118 880 1114 882 1112 880 1112 878 1112 874 1114 870 1112 866 1110 866 1106 872 1106 870 1096 872 1090 868 1086 868 1082 858 1076 852 1060 852 1056 848 1060 846 1066 844 1066 844 1062 840 1062 834 1060 830 1052 826 1048 822 1048 818 1046 816 1042 822 1038 822 1036 824 1034 824 1030 828 1020 822 1022 820 1030 820 1030 814 1032 810 1032 808 1020 806 1018 802 1018 796 1020 792 1020 788 1016 786 1016 782 1022 778 1020 774 1016 774 1010 766 1002 758 998 756 992 756 988 762 986 762 984 760 982 760 978 756 978 754 974 752 970 756 966 756 956 754 954 750 952 740 952 732 950 728 948 728 944 732 942 732 938 736 932 736 932 724 924 720 922 716 924 712 928 716 932 714 942 706 938 702 932 702 930 700 928 692 932 688 938 688 938 680 928 678 926 672 926 668 926 666 922 664 918 658 910 658 908 656 908 654 914 650 914 646 906 638 902 638 898 642 890 644 880 636 880 632 882 628 878 620 866 618 862 612 852 614 848 610 850 600 854 598 854 594 852 592 848 596 844 596 840 600 836 598 834 594 838 590 836 582 830 576 828 566 824 558 814 550 812 544 808 544 804 542 800 544 794 536 786 534 782 530 784 526 782 522 780 518 778 518 774 522 774 520 768 522 760 516 752 516 744 520 740 520 732 528 732 532 744 534 746 536 748 544 756 550 756 552 752 556 748 558 734 560 732 558 732 554 736 552 736 542 734 542 730 546 726 546 722 552 714 554 712 548 712 538 716 536 712 536 712 538 708 538 706 536 704 524 704 522 694 522 692 526 688 526 686 524 688 522 692 520 692 508 688 506 688 502 688 502 692 502 696 500 698 504 700 512 704 514 708 520 710 520 714 526 720 528 724 526 726 514 728 512 728 510 726 504 726 500 722 498 720 492 716 488 708 486 704 490 702 492 696 498 686 496 680 500 668 502 668 506ZM926 738 928 736 934 736 932 740 928 740ZM754 732 754 734 752 736 752 740 746 744 744 742 746 734 748 732ZM726 712 728 712 732 714 734 720 732 720 726 722 724 720 724 714ZM738 586 738 590 736 592 726 592 724 594 722 598 720 598 718 588 722 586 732 586 734 584ZM706 574 706 572 716 574 718 576 716 582 714 584 710 584 706 578ZM822 560 824 564 822 566 820 562ZM764 556 766 554 768 556 766 558ZM712 554 712 558 708 562 706 572 702 574 700 572 698 562 702 558 704 558 706 554ZM676 532 686 534 694 542 692 546 688 548 684 554 682 554 680 548 676 548 672 544 674 534ZM592 484 590 486 594 490 594 494 596 498 596 514 600 518 604 518 606 520 608 516 608 510 606 504 606 500 604 498 604 492 600 488 596 488ZM674 462 670 470 672 478 676 480 684 476 688 478 688 472 686 466 680 462 678 460ZM476 242 472 246 472 252 478 256 478 266 482 268 480 278 472 282 470 286 470 290 480 302 478 306 476 322 480 322 490 330 490 334 494 336 498 340 516 340 522 336 530 320 530 316 528 310 528 300 530 290 526 282 522 284 516 278 518 270 516 268 500 260 496 256 480 254 478 250Z"/>
<path fill="#222bff" fill-rule="evenodd" d="M1052 830 1052 838 1054 838 1052 834 1054 832ZM752 744 752 746 756 746 758 744 754 742ZM1030 710 1026 706 1022 700 1020 700 1016 702 1008 704 1006 708 1006 714 1008 716 1020 716 1022 716 1028 716 1030 714ZM632 652 632 660 640 668 644 668 658 668 662 664 666 664 666 664 666 674 670 680 680 680 684 674 688 680 698 682 696 672 692 672 686 668 684 662 680 660 668 664 664 660 664 654 656 646 656 644 648 642 640 646ZM904 640 900 646 902 652 906 652 908 648 908 646ZM716 606 716 610 716 606ZM626 604 624 606 628 606 628 604ZM686 576 688 578 690 580 698 578 698 574 696 572 690 572ZM728 550 728 550 728 552 730 550ZM696 552 704 550 696 548ZM656 538 654 550 656 552 664 552 672 552 672 548 668 544 666 536 660 536ZM694 528 690 530 694 534 694 538 698 538 698 528ZM754 524 754 526 758 528 758 534 760 534 762 538 762 544 766 550 772 554 772 560 782 560 784 564 782 566 772 566 770 562 766 562 764 560 758 560 748 566 734 566 730 562 722 562 720 564 724 568 726 578 730 580 736 578 740 582 740 584 744 588 744 596 740 600 734 600 732 604 728 606 724 616 720 618 716 624 708 626 708 630 710 632 710 642 712 646 710 662 714 668 718 672 720 682 714 686 708 686 704 684 700 684 702 692 712 698 714 706 716 708 730 708 736 710 740 714 744 728 740 730 738 728 738 724 734 724 732 724 734 726 730 732 734 734 742 734 746 728 758 730 760 732 758 738 776 750 778 760 780 762 792 760 796 764 800 778 808 782 812 776 822 786 826 792 828 792 830 790 846 800 850 806 858 808 860 810 858 816 862 820 872 822 878 836 886 836 890 834 910 848 922 864 926 864 930 862 930 864 936 862 942 866 946 870 946 874 952 878 956 876 962 882 968 884 974 882 976 884 980 890 982 894 990 894 994 896 1000 904 1010 906 1016 906 1020 902 1026 902 1030 904 1038 914 1048 916 1050 914 1052 908 1054 912 1062 914 1074 922 1082 922 1088 920 1094 920 1098 922 1108 922 1108 912 1104 910 1104 906 1108 904 1108 904 1114 904 1116 906 1116 910 1118 912 1122 898 1124 896 1126 892 1124 884 1122 886 1110 886 1108 884 1108 874 1104 872 1096 874 1094 876 1086 874 1082 870 1080 860 1076 858 1072 856 1070 856 1064 856 1062 858 1058 856 1050 850 1050 848 1050 844 1048 840 1044 838 1040 834 1034 832 1028 836 1024 832 1024 828 1020 826 1016 822 1012 818 1012 814 1014 812 1026 814 1030 812 1030 810 1022 808 1016 808 1002 798 1004 794 1008 792 1012 794 1014 794 1016 790 1012 786 1014 780 1012 772 1002 760 994 758 990 766 986 766 982 764 980 764 976 760 972 764 972 770 970 774 962 774 958 772 958 766 956 760 954 764 950 766 940 758 942 754 952 754 952 752 950 744 944 736 938 742 936 742 926 744 920 742 918 738 922 734 928 734 930 726 926 724 920 722 918 720 918 710 922 708 930 708 936 708 938 706 930 704 928 702 928 692 930 688 930 686 928 680 920 672 920 666 910 664 904 660 896 660 894 664 884 666 882 664 882 658 892 654 892 648 888 644 882 644 880 640 878 636 872 636 862 638 860 640 856 638 852 640 848 636 848 632 854 630 856 626 860 626 862 624 862 618 858 616 854 618 850 618 846 614 844 606 846 606 848 600 846 600 838 604 834 608 830 604 830 592 834 590 834 588 828 582 824 572 820 574 816 570 818 568 816 562 818 560 818 556 808 548 806 546 800 548 792 538 786 536 778 528 780 526 780 524 774 526 762 520ZM896 700 900 700 908 706 908 710 906 710 902 710ZM878 646 880 646 880 650 882 652 882 656 880 658 876 656 874 654ZM852 644 854 646 852 650 850 648ZM730 618 732 620 732 624 728 626 724 622 724 620 726 618ZM602 510 600 510 600 512ZM682 502 674 512 678 516 678 518 684 522 686 518 686 510 684 504ZM710 490 700 498 702 510 714 522 722 522 724 514 724 504 718 498 716 494ZM676 464 674 466 672 474 674 476 684 474 686 474 684 468 680 464ZM480 256 480 260 482 266 486 270 484 272 486 278 482 282 482 284 480 288 478 286 474 288 474 290 480 296 484 302 480 308 480 318 486 326 492 330 500 338 514 338 522 330 522 322 528 318 526 308 526 302 528 300 526 292 524 288 522 288 514 282 514 276 516 272 512 268 488 256Z"/>
<path fill="#1a44ff" fill-rule="evenodd" d="M942 744 940 746 942 746ZM1008 708 1008 714 1018 716 1020 714 1026 714 1028 710 1020 704 1014 704 1008 706ZM710 692 714 696 714 700 718 702 718 690ZM680 664 676 664 672 666 668 670 672 676 674 674 678 676 682 670ZM882 646 882 650 886 650 886 648ZM638 650 634 656 634 660 640 666 646 666 658 664 660 660 660 654 654 648 644 646ZM728 568 726 572 730 576 732 572 732 568ZM760 524 760 526 762 528 762 532 770 544 770 550 780 558 784 558 788 564 788 566 784 572 778 572 774 568 760 564 756 570 752 570 750 568 744 570 744 578 748 580 748 584 746 586 746 598 748 600 754 602 754 610 748 612 746 612 742 610 738 612 736 610 732 614 732 616 736 620 732 628 728 632 724 630 722 626 716 628 712 640 716 646 712 662 716 668 720 672 724 678 724 682 720 684 720 688 722 692 728 690 730 694 730 698 732 704 738 708 750 710 752 712 748 716 746 716 746 726 756 726 760 722 762 722 766 728 764 736 772 746 778 750 780 758 788 758 792 754 806 774 808 776 810 774 814 774 826 788 834 788 846 798 852 804 860 808 862 810 862 814 862 818 866 820 874 820 876 822 876 828 880 832 882 830 886 832 890 830 896 836 908 842 914 850 922 862 926 862 930 860 930 860 936 860 944 864 952 872 956 874 966 880 976 880 984 888 996 894 1000 898 1002 900 1016 902 1020 900 1030 902 1040 910 1044 910 1050 906 1056 906 1072 916 1078 916 1080 916 1084 914 1088 914 1090 916 1096 916 1100 918 1102 916 1102 912 1100 908 1100 906 1096 902 1094 892 1102 888 1102 886 1104 884 1102 880 1098 878 1094 882 1090 882 1086 886 1084 882 1082 872 1078 868 1076 870 1072 868 1068 870 1064 868 1066 864 1074 866 1076 864 1074 860 1060 862 1052 858 1048 858 1044 856 1046 844 1042 842 1036 838 1026 840 1018 828 1012 822 1008 816 1008 810 1002 802 996 808 992 806 988 794 992 788 1002 788 1010 784 1010 776 1004 764 1000 762 994 762 992 766 988 768 984 768 978 768 976 772 978 776 978 786 976 788 972 788 972 780 970 776 958 776 954 772 952 768 948 768 944 766 938 760 932 758 928 752 926 756 922 752 920 746 914 738 914 736 916 734 916 726 910 718 904 718 900 714 900 710 894 706 892 698 898 696 900 696 908 706 916 708 924 704 926 700 928 690 926 682 918 674 910 674 902 678 900 676 896 672 898 670 904 668 906 666 904 666 896 666 892 670 884 670 880 668 878 662 876 658 870 658 868 654 868 650 868 646 870 644 872 644 876 642 874 640 864 640 860 646 858 646 856 654 852 654 846 648 848 640 844 638 838 638 836 634 840 628 844 630 848 626 854 624 854 622 852 620 842 618 840 614 838 610 836 612 830 610 826 602 828 598 828 596 828 590 820 580 820 578 812 572 814 566 814 562 816 558 806 548 804 550 796 548 788 540 780 534 774 528 764 526ZM988 808 990 808 992 810 990 810ZM968 786 972 788 972 790 970 792 968 792 966 790ZM720 644 722 646 720 648 720 648ZM708 494 704 502 706 512 710 514 714 520 716 520 718 518 720 512 718 502 712 498 710 494ZM676 468 674 474 678 474 682 472 680 468ZM486 262 488 272 492 274 492 276 482 288 486 302 482 308 480 318 490 326 496 328 500 336 512 334 518 328 516 326 518 322 524 316 524 298 520 290 516 288 510 282 510 276 510 272 508 270 504 268 502 270 500 268 500 266 500 264 492 262Z"/>
<path fill="#105cff" fill-rule="evenodd" d="M1002 764 994 766 988 772 984 770 982 772 986 780 984 782 986 784 988 786 1002 784 1006 780 1006 774 1004 770 1004 766ZM752 718 754 720 756 720 758 718 756 716ZM1020 706 1016 704 1012 706 1010 708 1010 712 1016 714 1020 710ZM676 668 676 668 678 670 678 668ZM638 652 638 660 640 662 648 664 656 662 658 660 658 656 656 652 652 650 644 648ZM766 530 766 532 770 534 772 546 774 552 782 552 786 552 790 554 790 558 790 566 790 572 788 574 778 574 768 568 758 572 758 584 754 586 748 588 748 596 750 598 758 600 760 602 758 612 752 618 738 616 736 614 736 616 738 618 736 628 726 634 724 634 724 636 728 638 726 646 724 656 720 658 718 656 716 658 716 662 720 666 720 668 724 672 726 682 730 688 734 694 734 700 744 706 760 708 764 712 766 720 772 726 770 738 772 742 778 744 784 750 788 750 792 746 798 752 798 760 808 772 812 770 814 770 828 786 838 788 846 794 852 802 860 806 866 812 864 814 866 818 876 818 880 826 882 826 886 828 890 824 900 836 912 842 924 858 926 858 928 856 936 858 956 872 968 876 972 878 974 878 988 888 998 890 1000 894 1002 896 1008 894 1012 896 1016 898 1026 898 1040 908 1042 908 1044 904 1048 902 1062 906 1068 908 1072 912 1086 910 1094 910 1096 908 1096 906 1092 900 1088 896 1088 892 1094 890 1094 888 1090 886 1090 890 1086 890 1082 884 1080 874 1072 874 1070 876 1066 878 1064 876 1062 870 1058 866 1052 862 1048 862 1044 858 1042 856 1044 850 1042 846 1038 846 1034 842 1032 842 1030 844 1024 842 1020 838 1016 828 1012 826 1008 832 1006 828 1010 826 1010 822 1004 818 1002 810 1000 808 998 812 994 812 990 814 986 814 984 812 986 802 984 798 984 788 982 788 978 794 974 794 968 796 964 792 966 786 964 782 956 780 948 770 942 768 936 762 924 760 920 758 920 750 908 738 910 734 910 728 908 724 898 720 896 718 894 712 892 708 886 710 882 706 882 696 892 692 902 696 910 704 914 706 920 704 926 700 926 698 926 686 924 682 916 676 912 676 902 682 898 682 896 680 890 672 888 674 884 674 874 666 872 660 866 658 864 656 862 658 858 656 852 656 844 652 840 646 836 642 834 632 836 626 838 624 838 620 828 612 824 602 824 596 820 594 816 584 810 578 810 570 812 566 812 558 806 552 790 552 786 544 774 532 770 530ZM874 692 878 690 882 694 882 696 878 696 874 694ZM760 626 762 626 764 628 764 630 768 632 770 636 766 636 762 634 760 630ZM710 510 714 512 716 512 716 508ZM506 278 504 280 498 280 492 282 486 290 488 294 488 302 482 312 482 318 490 326 496 328 502 332 510 330 522 312 522 302 518 298 518 294 506 282Z"/>
<path fill="#0574ff" fill-rule="evenodd" d="M1000 774 994 776 998 778ZM640 656 640 660 644 662 650 662 656 658 648 650 644 652ZM760 576 760 584 756 588 754 594 764 602 762 612 764 622 770 628 772 630 776 634 776 640 772 644 766 644 764 642 758 638 756 628 754 626 746 622 744 620 742 620 740 624 738 630 732 634 732 640 726 654 728 660 722 664 722 668 726 672 726 680 732 684 734 690 740 694 740 696 740 700 744 700 746 698 744 694 750 692 766 700 770 702 770 706 776 720 780 722 784 724 784 728 782 730 774 730 774 738 776 740 782 742 796 744 802 752 800 756 804 764 808 768 812 768 818 770 832 786 842 790 852 798 862 804 868 810 870 814 884 816 886 818 886 822 888 820 892 822 894 824 896 830 904 838 910 836 918 844 924 856 928 854 934 854 958 870 968 874 982 882 994 886 1008 886 1010 888 1012 892 1030 896 1034 902 1052 900 1058 902 1066 902 1070 904 1072 910 1086 904 1088 902 1088 900 1084 896 1084 892 1074 878 1068 884 1066 884 1058 870 1052 866 1046 864 1036 854 1038 850 1036 846 1032 846 1030 848 1022 846 1018 842 1014 832 1010 838 1002 838 1000 836 1000 832 1000 828 1004 824 1004 822 994 816 992 820 986 818 982 814 982 812 982 806 982 802 974 798 972 800 962 798 956 790 958 786 962 784 956 782 954 782 950 784 950 782 952 780 948 776 944 776 942 770 934 768 932 764 922 762 920 760 918 752 912 746 904 742 900 738 902 734 902 732 898 724 896 724 894 730 892 732 886 730 882 726 882 724 886 722 892 722 892 718 890 714 886 716 884 714 880 718 876 716 874 710 876 708 876 704 874 698 868 698 866 702 860 702 856 698 856 692 864 686 874 686 882 690 892 688 896 690 910 704 916 704 924 702 926 698 926 686 924 684 918 678 914 676 908 678 902 684 894 684 890 678 888 678 884 678 868 662 848 656 830 644 830 634 834 630 834 626 830 616 824 608 818 598 814 598 808 594 808 592 812 592 814 590 812 586 802 578 810 570 810 558 806 554 796 556 794 558 792 572 788 578 768 572ZM1028 854 1028 852 1030 854 1030 854ZM950 786 954 788 952 792 950 792 948 790 948 788ZM500 284 490 290 490 294 490 302 486 308 484 318 494 326 500 328 506 328 512 322 514 316 518 310 518 302 516 294 512 292 510 288Z"/>
<path fill="#008eff" fill-rule="evenodd" d="M910 678 902 684 900 686 900 688 902 694 910 702 916 704 922 702 924 698 926 690 924 686 920 680ZM650 656 646 654 644 658 648 660 650 658ZM766 576 760 588 760 596 766 600 766 604 766 616 770 620 774 622 774 628 778 634 780 638 772 646 766 648 756 640 756 636 750 632 750 628 744 628 742 628 734 636 736 640 730 654 730 662 730 666 726 670 726 674 728 680 736 688 742 690 748 688 752 690 770 698 778 706 778 708 782 712 784 720 792 724 792 728 786 732 786 734 782 736 782 738 784 740 792 740 798 742 802 746 804 752 804 758 806 762 810 766 820 770 828 778 832 784 848 792 856 800 866 804 870 812 872 812 876 812 886 814 898 824 898 828 904 834 908 832 922 844 924 848 930 848 942 858 962 870 968 872 974 876 984 882 994 884 1000 884 1010 886 1016 890 1024 894 1042 894 1044 898 1060 900 1068 898 1074 904 1080 900 1080 894 1074 886 1064 886 1050 868 1044 866 1034 856 1028 858 1022 854 1022 850 1014 842 1000 838 998 836 996 824 994 824 990 824 982 820 978 814 978 806 974 804 970 806 964 802 958 800 948 796 944 788 936 786 934 784 938 780 936 776 936 772 930 768 924 768 918 760 912 748 908 748 906 744 896 740 892 740 882 732 880 724 872 718 870 712 874 708 872 704 870 704 866 708 858 708 852 704 850 698 852 694 850 694 852 690 864 684 882 682 882 680 866 664 832 648 826 648 820 646 828 640 830 630 828 616 822 612 820 606 818 604 814 604 810 600 804 596 804 590 800 588 800 584 796 580 798 574 800 574 808 570 810 558 804 556 798 556 796 560 796 564 794 568 796 572 788 580 778 578 774 574ZM828 680 830 678 836 680 842 684 846 684 850 688 848 690 840 688 834 688 828 684ZM802 634 806 632 808 632 814 636 810 640 804 640 802 636ZM496 288 494 290 492 296 492 302 486 308 486 318 494 324 502 326 508 322 510 318 514 312 514 308 516 306 516 300 508 290 504 288Z"/>
<path fill="#00aaff" fill-rule="evenodd" d="M910 680 906 682 902 688 904 694 910 700 914 702 918 702 924 698 924 688 922 684 920 680ZM768 580 764 586 764 594 766 598 774 604 772 606 774 610 774 614 778 622 780 628 782 630 784 638 780 640 772 648 764 648 758 646 748 636 744 636 746 640 738 644 732 654 734 658 732 668 728 672 728 674 732 680 742 688 748 686 762 694 766 694 772 698 780 698 786 704 788 708 794 710 796 712 796 714 802 718 802 724 800 728 796 730 794 732 798 740 802 742 806 746 806 750 808 754 808 758 814 766 820 768 836 784 848 790 856 798 864 800 872 810 878 810 886 812 904 824 902 828 904 830 910 828 926 846 936 850 942 858 946 858 950 862 960 868 968 870 976 876 986 882 1004 882 1028 892 1042 892 1046 896 1062 896 1064 894 1064 888 1056 882 1056 878 1050 874 1044 866 1038 864 1034 860 1028 860 1018 854 1018 850 1016 846 1008 842 998 840 994 842 994 840 996 838 996 830 984 826 978 820 976 812 974 810 968 810 966 814 964 816 960 810 960 804 948 800 942 790 936 788 932 786 934 780 932 774 928 772 924 772 916 764 914 756 910 750 904 750 896 742 888 742 886 744 880 736 878 726 868 720 868 714 866 710 858 710 850 708 848 706 846 700 844 698 846 694 844 692 830 690 826 686 824 682 830 678 838 678 852 686 860 684 864 682 876 682 878 680 872 670 862 662 854 658 846 656 838 652 826 650 814 644 808 644 800 640 794 638 792 636 796 634 796 630 798 626 808 628 810 630 814 630 818 632 822 630 826 632 828 628 826 624 824 618 816 606 812 604 808 600 802 596 796 586 794 582 788 584 784 582 778 582 776 578 772 578ZM808 558 802 558 798 560 796 566 796 568 798 572 802 572 808 568 808 566ZM504 290 500 290 496 294 492 304 488 310 488 318 496 322 502 322 506 320 510 312 510 308 514 304 510 294Z"/>
<path fill="#00c6ff" fill-rule="evenodd" d="M914 680 904 684 904 692 904 694 910 700 914 702 918 702 922 698 924 688 918 680ZM740 646 736 652 736 668 732 672 734 680 740 684 748 682 758 690 772 696 786 696 792 706 800 712 804 718 804 720 808 724 808 728 802 730 800 734 804 740 808 742 812 742 814 744 812 748 814 752 812 758 814 764 824 770 836 784 852 792 858 798 868 800 872 808 878 806 882 810 892 814 904 822 908 826 912 826 914 832 928 844 936 848 944 856 954 864 962 868 970 870 980 878 992 882 1002 880 1020 888 1040 888 1048 894 1056 894 1060 888 1050 878 1042 866 1034 864 1028 864 1022 860 1016 854 1016 848 1000 844 998 846 992 844 990 842 992 838 992 834 980 830 974 824 970 824 968 822 964 822 956 814 954 806 946 800 944 794 938 794 936 792 930 794 926 790 930 786 928 782 930 780 930 778 928 776 922 774 914 766 910 756 908 754 906 756 896 748 890 746 886 750 884 750 880 744 878 732 874 728 868 722 866 714 864 712 860 714 838 706 836 708 832 708 830 706 832 702 834 702 838 702 838 702 834 700 830 698 832 694 824 688 822 680 828 676 834 676 850 684 862 682 864 680 872 680 872 674 862 664 838 654 828 652 812 646 804 646 798 642 790 638 780 642 772 648 768 650 758 650 750 644ZM766 588 768 596 770 598 772 596 780 602 780 606 780 616 784 626 788 632 792 626 794 626 800 620 804 622 810 622 812 624 814 622 818 624 818 624 818 618 814 608 800 598 798 596 794 588 792 586 788 588 784 588 780 592 778 592 776 590 772 590 772 588 778 584 776 582 772 584ZM806 560 802 560 800 562 798 568 802 570 806 566 808 562ZM506 294 500 296 494 304 494 308 490 312 490 316 496 320 500 320 506 318 508 312 506 308 508 306 508 296Z"/>
<path fill="#00e2ff" fill-rule="evenodd" d="M890 752 890 754 896 754ZM912 680 906 684 904 692 910 698 914 700 918 700 922 696 922 688 918 682ZM740 648 738 654 740 664 738 670 736 672 738 676 736 678 738 680 748 680 756 688 766 692 774 694 784 694 790 698 798 708 802 710 802 714 806 720 810 724 812 728 816 732 816 734 816 754 814 756 816 760 820 766 826 768 838 784 854 790 856 794 868 798 872 804 874 804 878 804 886 810 898 814 902 820 910 824 924 838 926 840 932 844 936 846 946 858 962 866 968 868 976 874 982 878 992 880 1004 880 1014 884 1028 886 1042 884 1046 890 1054 890 1056 888 1054 886 1048 884 1046 882 1044 876 1042 874 1042 872 1042 868 1034 866 1030 866 1022 862 1012 852 1012 850 1008 848 992 846 986 842 988 838 988 836 978 834 972 828 962 826 956 820 950 808 942 804 938 806 934 802 934 800 934 800 930 800 918 788 922 786 922 782 922 778 920 778 922 782 920 786 916 784 918 780 914 776 916 772 912 770 912 762 908 760 902 758 900 760 896 760 892 760 886 756 882 754 876 744 872 730 864 724 864 720 862 716 852 714 848 712 842 710 830 710 828 714 824 714 822 712 824 704 828 702 826 694 822 688 820 680 824 676 834 676 850 682 860 682 866 678 870 678 870 678 870 674 866 672 862 664 848 658 844 658 838 654 826 654 814 648 804 646 796 642 788 640 780 642 774 648 768 650 754 652 748 646ZM792 592 786 592 784 594 784 616 784 622 788 626 792 622 794 622 800 614 804 618 812 618 814 616 812 608 798 600ZM496 310 494 312 496 316 500 318 504 312 500 310Z"/>
<path fill="#00f6ef" fill-rule="evenodd" d="M912 682 906 686 906 692 910 698 914 700 918 700 922 696 922 692 922 686 918 682ZM742 654 746 658 744 672 752 684 760 690 772 694 780 692 788 694 796 704 804 710 806 716 810 718 810 720 814 724 816 728 822 730 822 734 818 736 820 754 818 756 818 758 820 762 824 766 826 768 840 782 870 798 872 800 876 800 890 810 900 814 904 818 912 822 924 836 938 846 948 858 960 864 970 868 974 872 982 878 990 880 1006 878 1014 884 1026 884 1028 884 1038 880 1038 874 1038 870 1030 868 1022 864 1006 850 1002 848 994 850 988 848 986 844 984 838 978 838 968 830 964 830 956 826 954 822 950 812 948 810 942 808 940 808 934 808 924 796 918 794 914 790 914 782 910 776 908 770 910 766 904 762 894 762 890 764 884 760 876 752 874 744 868 736 868 734 862 726 860 718 850 716 844 714 842 714 838 714 828 718 818 716 814 714 814 708 820 696 820 688 818 684 818 680 822 676 828 674 836 676 850 682 860 680 866 676 864 670 862 666 846 658 828 654 814 648 802 648 800 644 790 640 784 640 778 644 772 650 760 652 752 654 748 650 746 650ZM786 600 786 616 788 620 792 616 796 616 796 612 800 610 802 610 804 612 808 610 806 606 800 608 800 604 792 598Z"/>
<path fill="#00fac3" fill-rule="evenodd" d="M824 736 822 740 824 744 824 746 824 750 820 756 820 760 836 774 838 780 844 782 850 786 858 790 864 792 872 796 878 796 890 808 914 820 920 828 920 830 940 846 950 856 970 866 980 876 988 878 1006 878 1016 882 1020 882 1026 882 1030 882 1032 880 1034 876 1032 870 1030 870 1022 866 1008 854 1000 850 996 852 988 850 982 840 978 840 966 832 956 828 944 812 942 812 936 812 924 802 918 800 914 794 912 784 908 776 906 766 904 764 900 766 896 764 892 768 884 766 880 760 874 756 874 750 868 744 868 740 864 736 858 734 848 736 836 736 832 732 828 734ZM832 720 832 720 842 720 844 722 848 720 852 720 844 718ZM812 716 812 720 814 722 816 720 814 716ZM912 682 906 686 906 692 912 698 916 700 920 696 922 690 920 686 916 682ZM748 670 752 680 760 690 772 692 788 692 798 704 806 708 810 708 818 698 818 686 816 684 816 680 820 676 832 674 840 676 850 680 860 680 864 676 864 670 862 666 846 658 826 654 814 650 802 648 796 644 792 642 784 642 780 644 774 650 762 652 758 654 748 662Z"/>
<path fill="#00fe97" fill-rule="evenodd" d="M922 822 924 824 922 826 922 830 928 834 930 836 936 840 948 854 968 864 980 876 986 878 1006 876 1014 880 1026 880 1030 878 1030 874 1026 870 1020 868 1016 862 1014 862 1010 858 1000 852 986 850 982 844 976 844 968 838 966 834 956 832 946 820 944 816 934 816 932 820 926 820ZM830 748 828 752 824 756 824 758 828 766 836 772 840 780 844 780 856 788 870 790 882 794 886 798 886 802 890 806 906 814 910 818 916 818 918 822 920 822 920 818 924 814 926 814 928 810 920 802 914 800 910 796 910 794 910 784 902 768 894 768 882 770 878 764 870 762 866 762 864 758 868 754 866 750 866 744 864 742 862 742 862 746 864 750 862 752 864 756 862 758 856 756 854 760 852 760 842 752 842 748 844 746 852 746 852 742 858 742 858 742 858 738 852 738 850 738 850 744 848 746 834 744ZM828 738 828 740 836 742 834 736 832 736ZM912 684 908 688 910 694 916 698 920 696 920 690 918 684ZM750 668 750 674 752 680 760 688 770 692 788 692 800 704 806 706 810 704 816 698 816 688 814 684 814 680 816 678 824 674 836 674 850 680 856 680 862 676 862 668 856 664 848 660 826 656 814 650 802 650 796 644 790 642 780 644 774 652 762 652 758 654 752 660Z"/>
<path fill="#00fa61" fill-rule="evenodd" d="M926 828 926 830 936 838 948 852 968 862 982 876 984 876 1006 876 1012 876 1014 878 1028 876 1028 874 1026 872 1022 872 1016 864 1014 864 1010 860 1000 854 986 852 982 848 974 846 962 834 954 832 942 820 940 820 936 820ZM828 756 828 764 836 770 840 778 856 786 866 782 872 788 876 788 882 790 888 798 888 804 904 812 914 814 920 810 916 802 906 798 908 782 906 778 900 770 896 768 882 774 878 772 874 768 858 768 854 762 846 760 838 750 832 750ZM912 686 910 690 912 694 916 696 920 692 918 688 916 686ZM750 670 750 674 754 680 762 688 772 692 788 690 800 702 808 704 814 698 814 688 812 686 812 678 814 676 826 672 834 672 852 680 860 676 862 674 860 668 858 666 846 660 834 658 814 652 804 652 798 646 792 642 782 644 772 652 760 654 754 660Z"/>
<path fill="#00f428" fill-rule="evenodd" d="M930 828 930 830 950 852 968 860 982 874 990 876 1002 874 1008 876 1012 874 1018 876 1018 874 1016 868 1014 866 1002 856 994 854 986 852 974 848 966 840 954 834 946 826 938 822 934 822ZM830 756 830 758 830 762 838 770 840 776 844 776 852 782 858 782 860 778 862 780 866 778 872 784 874 784 876 780 880 786 886 788 888 794 890 804 900 808 902 810 906 812 914 810 914 808 910 808 906 804 908 802 902 798 906 792 906 784 900 772 896 770 884 776 876 776 872 772 868 772 866 774 864 772 860 776 852 764 844 762 838 754ZM914 688 912 688 914 690 914 694 916 694 918 690ZM752 670 754 680 762 688 770 690 788 690 794 692 802 702 806 702 812 698 810 694 812 688 808 678 812 676 822 672 834 672 852 678 860 674 860 668 846 660 834 660 816 652 802 654 796 646 790 642 782 644 772 654 768 652 760 654 754 660ZM800 672 804 676 804 680 802 682 800 682 798 678 798 676Z"/>
<path fill="#12f000" fill-rule="evenodd" d="M934 828 936 832 938 834 940 838 944 842 948 848 958 852 962 852 970 858 976 868 982 874 996 876 1012 872 1010 866 1000 856 984 852 976 852 968 846 964 840 948 834 944 830 940 828ZM894 774 888 776 886 786 892 790 890 796 892 802 896 804 900 804 902 804 900 792 904 786 904 784 900 774ZM834 758 834 762 840 764 840 770 842 774 848 776 854 774 854 772 854 770 846 764 842 762 838 758ZM752 668 754 678 760 686 768 690 786 690 788 688 794 692 804 700 808 700 810 698 810 690 806 686 796 680 796 674 798 672 800 670 806 674 812 674 816 672 832 670 840 672 844 674 852 678 858 674 858 670 854 666 846 662 834 660 816 654 808 654 800 656 798 648 792 644 784 644 778 648 774 654 766 654 760 656 756 660Z"/>
<path fill="#4ef000" fill-rule="evenodd" d="M972 856 976 868 982 874 996 874 1008 870 1008 866 1000 858 994 856 982 854 976 854ZM942 834 942 838 946 840 946 844 948 846 956 848 966 852 968 850 964 846 962 842 946 834ZM890 778 894 786 902 786 898 776 894 776ZM844 770 846 772 848 772 848 770ZM754 668 754 678 762 686 770 690 792 688 794 690 804 698 808 698 808 696 804 692 802 686 798 684 794 680 794 674 796 670 800 668 806 672 840 670 842 672 852 676 854 676 856 670 854 666 844 662 842 662 834 662 826 658 816 654 806 656 800 662 798 662 792 658 798 654 798 648 794 646 790 644 786 644 782 646 774 654 762 656 756 660Z"/>
<path fill="#8af000" fill-rule="evenodd" d="M976 858 978 868 980 872 984 874 996 874 1000 872 1004 868 1002 862 994 856 984 854ZM948 840 950 844 954 844 952 840ZM844 664 844 666 844 670 850 674 854 674 854 668 852 666 846 666ZM800 666 802 668 808 672 828 670 834 668 834 664 830 660 814 654 806 658 804 662ZM756 662 754 672 756 680 762 686 768 688 796 688 802 692 800 686 794 682 794 664 790 658 796 654 796 648 790 644 784 644 778 650 776 654 764 656Z"/>
<path fill="#c0ed00" fill-rule="evenodd" d="M978 858 978 866 980 870 984 872 996 872 1002 868 1002 862 994 858 980 856ZM850 668 850 670 850 672 852 672 852 670ZM804 666 808 668 828 668 832 666 832 664 822 658 814 656 810 658 808 662ZM794 646 790 644 784 646 780 650 776 656 762 656 758 662 754 670 754 674 760 684 766 688 776 688 792 686 794 684 792 682 794 666 792 664 788 658 796 652 796 650Z"/>
<path fill="#f0e800" fill-rule="evenodd" d="M978 860 978 866 980 870 984 872 992 872 1000 870 1002 868 1002 864 1000 862 992 858 984 856 980 858ZM810 660 810 664 814 666 826 668 830 666 830 664 826 660 820 658 812 658ZM794 648 790 646 786 646 780 650 780 654 778 656 764 656 760 660 756 664 756 676 760 684 768 688 784 688 792 684 792 666 790 662 786 660 786 658 796 652Z"/>
<path fill="#ffcc00" fill-rule="evenodd" d="M980 860 980 866 984 870 996 870 1000 868 1000 864 992 858 982 858ZM812 660 812 662 820 666 826 666 826 662 820 658ZM760 660 756 672 758 680 762 684 768 686 784 686 790 682 792 666 786 660 780 658 770 656 764 658ZM780 652 782 656 788 656 794 652 794 650 790 646 786 646Z"/>
<path fill="#ffa600" fill-rule="evenodd" d="M980 860 980 866 982 868 994 870 998 866 998 864 992 860 982 860ZM816 662 818 664 822 666 824 664 822 660ZM760 660 756 670 756 674 758 680 762 684 766 686 782 686 788 684 790 680 792 668 786 662 770 658 766 658ZM792 650 788 648 784 648 782 650 782 654 788 654 792 652Z"/>
<path fill="#ff8900" fill-rule="evenodd" d="M982 862 982 866 984 868 986 866 994 868 996 864 990 860ZM760 662 758 668 758 676 762 682 770 686 772 684 774 686 784 686 788 682 790 676 790 668 786 662 770 658 766 658ZM790 650 786 650 784 650 784 654 788 654Z"/>
<path fill="#ff6e00" fill-rule="evenodd" d="M764 660 758 668 758 676 764 682 768 684 782 686 784 684 788 680 790 668 786 664 780 662 774 662 770 660Z"/>
<path fill="#ff5800" fill-rule="evenodd" d="M762 664 758 674 760 678 764 682 768 684 782 684 788 680 790 670 786 664 780 662 772 662 770 660 766 660Z"/>
<path fill="#ff4200" fill-rule="evenodd" d="M762 666 760 674 764 680 768 682 784 684 786 680 788 676 788 668 784 664 782 664 774 664 768 662Z"/>
<path fill="#ff2c00" fill-rule="evenodd" d="M760 670 762 676 768 682 774 682 782 684 786 680 788 676 788 668 782 664 776 666 766 664Z"/>
<path fill="#ff1c00" fill-rule="evenodd" d="M786 668 784 666 778 666 772 670 764 670 762 674 768 680 772 680 776 682 782 682 786 678Z"/>
<path fill="#ff0d00" fill-rule="evenodd" d="M780 666 770 674 770 676 776 680 782 682 784 680 786 672 784 668Z"/>
<path fill="#ff0000" fill-rule="evenodd" d="M782 668 780 668 774 672 774 676 780 680 784 678 786 674 784 670Z"/>
</g>
<g fill="#fff">
<polygon points="814,529 828,530 834,538 818,541"/>
<polygon points="300,338 316,338 326,350 342,364 344,378 336,380 322,370 308,362 298,350"/>
<polygon points="711,762 716,768 728,772 738,772 738,777 726,777 713,771"/>
<polygon points="764,805 780,803 780,812 766,814"/>
<polygon points="410.5,187.3 413,184.8 415.5,187.3 413,189.8"/>
<polygon points="440,223.8 443,220.8 446,223.8 443,226.8"/>
<polygon points="402.1,246.7 404.6,241.7 407.1,246.7 404.6,251.7"/>
<polygon points="389,261 392,257.5 395,261 392,264.5"/>
<polygon points="437.5,263 440,258 442.5,263 440,268"/>
<polygon points="353.7,271.7 356.7,268.7 359.7,271.7 356.7,274.7"/>
<polygon points="320.4,250.8 325.4,247.8 330.4,250.8 325.4,253.8"/>
<polygon points="314.5,271.7 317,266.7 319.5,271.7 317,276.7"/>
<polygon points="453,417 461,418 462,434 454,434"/>
<polygon points="424,443 436,442 435,449 425,449"/>
<polygon points="486,472 496,471 493,482 492,490 488,488"/>
<polygon points="513,457 524,458 523,468 514,467"/>
<polygon points="515,486 527,487 525,497 516,496"/>
<polygon points="513,404 524,404 523,410 514,410"/>
<polygon points="539,405 548,404 547,417 540,417"/>
<polygon points="578,431 594,430 593,437 579,437"/>
<polygon points="537,507 548,507 547,514 538,514"/>
<polygon points="558,508 580,507 578,518 560,518"/>
<polygon points="592,514 612,515 630,520 628,528 608,527 594,521"/>
<polygon points="650,525 660,524 668,532 664,542 652,540"/>
<polygon points="617,550 626,548 634,556 630,568 620,566"/>
<polygon points="642,563 652,562 651,569 643,569"/>
<polygon points="537,534 548,534 548,542 538,542"/>
<polygon points="535,553 545,553 545,566 536,566"/>
<polygon points="484,534 493,534 493,542 485,542"/>
<polygon points="401,546 413,546 413,552 402,552"/>
<polygon points="501,626 520,630 540,628 553,634 545,648 525,650 505,644"/>
<polygon points="364,380 379,379 380,398 366,399"/>
<polygon points="425,258 428,262 410,290 408,304 400,305 398,296 404,286"/>
<polygon points="330,284 345,283 361,287 358,295 340,296 329,292"/>
<polygon points="307,318 322,317 336,322 334,331 318,330 308,327"/>
<polygon points="368,305 384,306 383,313 369,313"/>
<polygon points="281,255 292,262 299,280 290,285 283,272"/>
<polygon points="474,205 480,207 478,216 473,214"/>
<polygon points="455,194 463,195 462,200 455,200"/>
<polygon points="401,201 405,203 406,211 402,210"/>
<polygon points="384,211 390,211 389,216 384,216"/>
<polygon points="372,308 380,308 380,314 372,314"/>
<polygon points="428,295 436,297 435,306 429,305"/>
<polygon points="480,367 500,370 522,366 525,374 510,384 490,383 480,380"/>
<polygon points="545,380 560,386 574,388 585,380 600,396 598,402 590,405 584,416 576,408 566,402 553,396 548,388"/>
<polygon points="608,410 616,412 617,422 611,428 606,420"/>
<polygon points="543,404 548,404 548,416 543,416"/>
<polygon points="582,430 590,430 589,437 582,437"/>
<polygon points="438,350 452,352 460,362 470,368 490,370 505,364 520,356 525,362 512,378 492,382 470,378 452,370 440,360"/>
<polygon points="427,464 445,462 460,463 470,470 468,485 462,495 458,490 455,475 440,478 438,490 430,502 425,492 426,478"/>
<polygon points="372,380 380,382 383,400 381,420 383,432 376,432 373,412"/>
<polygon points="362,445 372,448 383,452 380,462 376,471 368,468 364,458"/>
<polygon points="398,417 407,418 405,430 407,444 400,444 399,430"/>
<polygon points="430,404 437,405 438,418 434,428 429,425"/>
<polygon points="355,444 367,450 377,447 372,460 377,472 366,470 358,466"/>
<polygon points="390,441 400,441 400,450 390,450"/>
<polygon points="766,477 772,477 773,490 771,503 765,503 766,490"/>
<polygon points="944,682 950,682 950,690 944,690"/>
<polygon points="1014,816 1022,816 1022,827 1014,827"/>
<polygon points="540,680 562,682 560,697 542,697"/>
<polygon points="583,694 600,695 600,708 584,708"/>
<polygon points="598,727 612,726 628,733 628,743 612,745 600,738"/>
<polygon points="639,737 650,735 665,740 668,752 655,755 642,751"/>
<polygon points="673,763 684,761 685,770 676,776"/>
<polygon points="500,626 533,630 536,650 532,672 520,674 508,662 522,655 522,640 505,640"/>
</g></g><line x1="252.7" y1="240.8" x2="1132.2" y2="929.7" stroke="#ff0000" stroke-width="6"/><rect x="169.2" y="41.0" width="1012.8" height="889.8" stroke="#2a2a2a" stroke-width="2.6" fill="none"/><path d="M169.2 930.8v14.7 M270.5 930.8v7.5 M371.8 930.8v14.7 M473.0 930.8v7.5 M574.3 930.8v14.7 M675.6 930.8v7.5 M776.9 930.8v14.7 M878.2 930.8v7.5 M979.4 930.8v14.7 M1080.7 930.8v7.5 M1182.0 930.8v14.7 M169.2 930.8h-17.4 M169.2 841.8h-10.5 M169.2 752.8h-17.4 M169.2 663.9h-10.5 M169.2 574.9h-17.4 M169.2 485.9h-10.5 M169.2 396.9h-17.4 M169.2 307.9h-10.5 M169.2 219.0h-17.4 M169.2 130.0h-10.5 M169.2 41.0h-17.4" stroke="#2a2a2a" stroke-width="2.6" fill="none"/><text x="169.2" y="997.5" font-size="54" text-anchor="middle">1.0</text><text x="371.8" y="997.5" font-size="54" text-anchor="middle">1.2</text><text x="574.3" y="997.5" font-size="54" text-anchor="middle">1.4</text><text x="776.9" y="997.5" font-size="54" text-anchor="middle">1.6</text><text x="979.4" y="997.5" font-size="54" text-anchor="middle">1.8</text><text x="1182.0" y="997.5" font-size="54" text-anchor="middle">2.0</text><text x="141" y="946.0" font-size="54" text-anchor="end">0.2</text><text x="141" y="768.0" font-size="54" text-anchor="end">0.3</text><text x="141" y="590.1" font-size="54" text-anchor="end">0.4</text><text x="141" y="412.1" font-size="54" text-anchor="end">0.5</text><text x="141" y="234.2" font-size="54" text-anchor="end">0.6</text><text x="141" y="56.2" font-size="54" text-anchor="end">0.7</text><text x="673" y="1092.2" font-size="53.3" text-anchor="middle">TSR (MWh/m<tspan font-size="35" dy="-21">2</tspan><tspan dy="21">/yr)</tspan></text><text transform="translate(54.3,485) rotate(-90)" font-size="54.5" text-anchor="middle">CoV</text><text x="799.5" y="111.4" font-size="53">y=−4.45x+1.06</text><text x="799.5" y="179.2" font-size="53">R=−0.85</text><rect x="1186.5" y="41" width="79" height="889.5" fill="url(#cb)" stroke="#2a2a2a" stroke-width="2"/><text transform="translate(1315.4,488.2) rotate(-90)" font-size="44.4" text-anchor="middle">Increasing Density</text></svg></body></html>
